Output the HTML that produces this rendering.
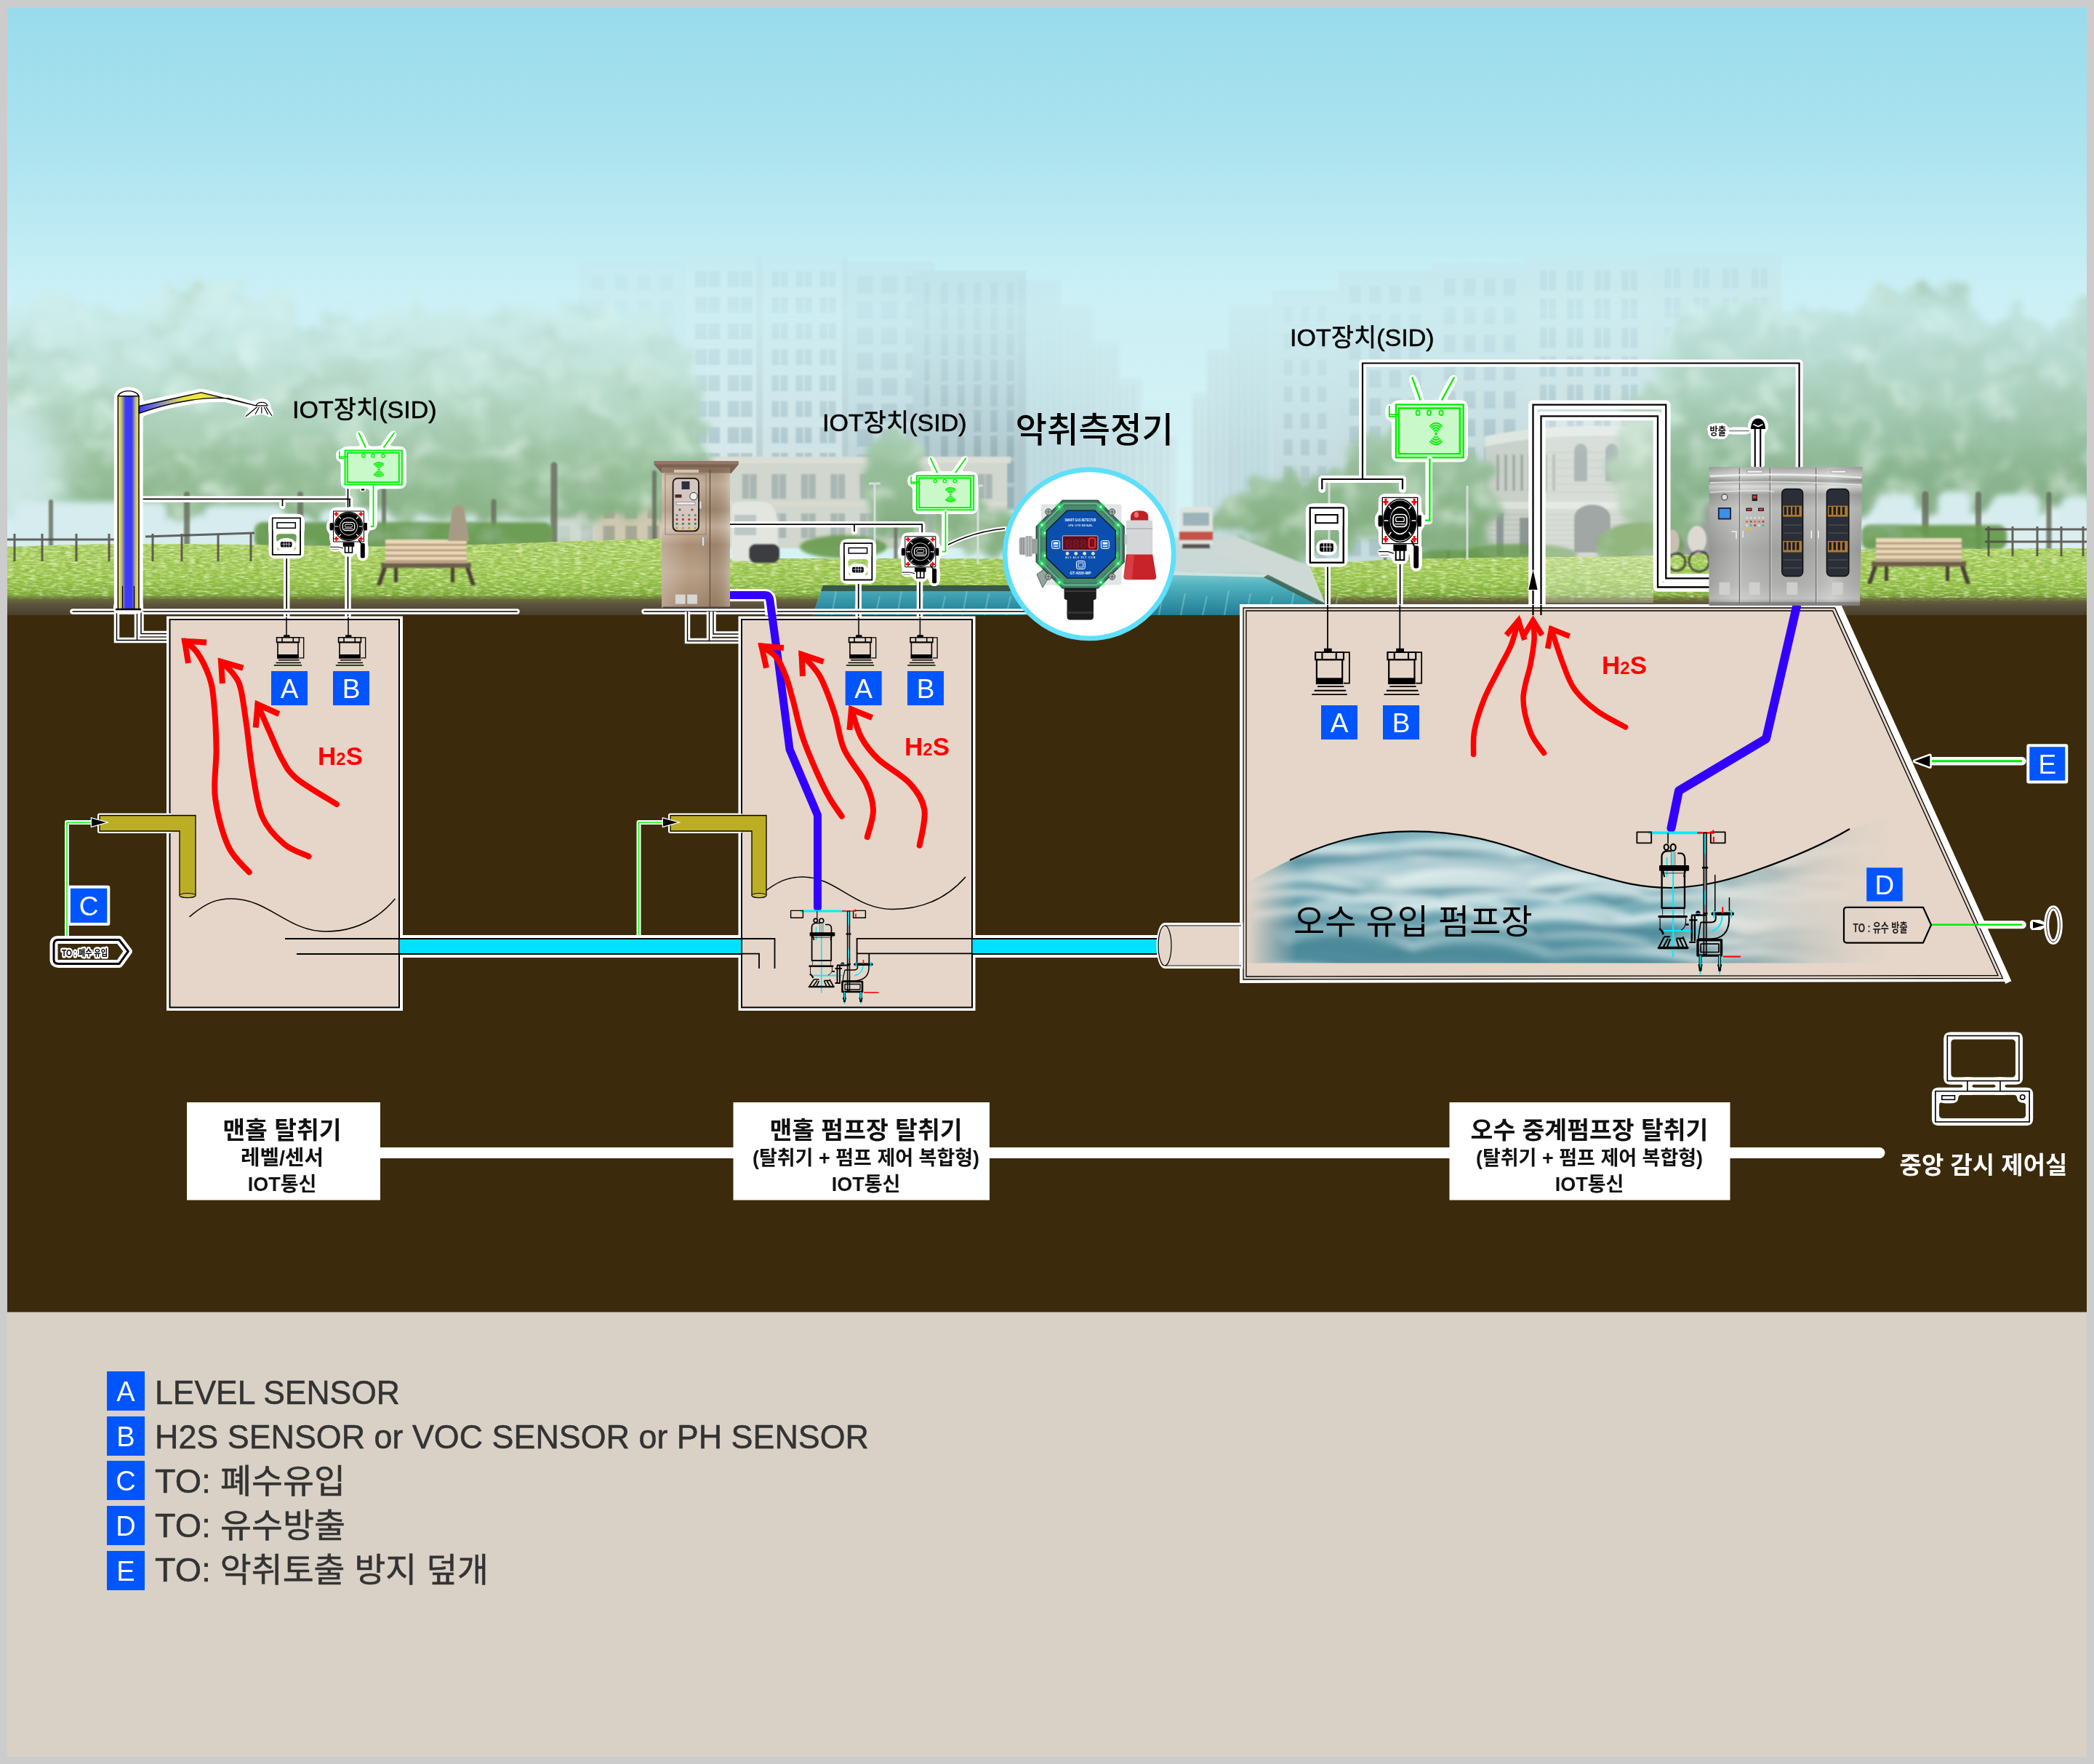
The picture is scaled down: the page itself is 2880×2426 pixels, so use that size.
<!DOCTYPE html>
<html lang="ko"><head><meta charset="utf-8"><title>IOT 탈취 시스템 구성도</title>
<style>
html,body{margin:0;padding:0;background:#cccccc;}
body{width:2880px;height:2426px;overflow:hidden;}
svg{display:block;}
text{font-family:"Liberation Sans","Noto Sans CJK KR",sans-serif;}
.k{font-family:"Liberation Sans","Noto Sans CJK KR",sans-serif;}
</style></head><body>
<svg width="2880" height="2426" viewBox="0 0 2880 2426">
<!-- defs -->
<defs>
<linearGradient id="sky" x1="0" y1="0" x2="0" y2="1">
<stop offset="0" stop-color="#99dbeb"/>
<stop offset="0.25" stop-color="#aee4f0"/>
<stop offset="0.45" stop-color="#c9eff5"/>
<stop offset="0.6" stop-color="#d3f3f7"/>
<stop offset="1" stop-color="#d6f3f6"/>
</linearGradient>
<filter id="halo" x="-20%" y="-20%" width="140%" height="140%" color-interpolation-filters="sRGB">
<feGaussianBlur in="SourceAlpha" stdDeviation="3" result="b"/>
<feComponentTransfer in="b" result="d"><feFuncA type="linear" slope="40" intercept="-2.0"/></feComponentTransfer>
<feFlood flood-color="#ffffff"/><feComposite in2="d" operator="in" result="h"/>
<feMerge><feMergeNode in="h"/><feMergeNode in="SourceGraphic"/></feMerge>
</filter>
<filter id="halo2" x="-20%" y="-20%" width="140%" height="140%">
<feMorphology in="SourceAlpha" operator="dilate" radius="2" result="d"/>
<feFlood flood-color="#ffffff"/><feComposite in2="d" operator="in" result="h"/>
<feMerge><feMergeNode in="h"/><feMergeNode in="SourceGraphic"/></feMerge>
</filter>
<filter id="b4"><feGaussianBlur stdDeviation="4"/></filter>
<filter id="b8" x="-20%" y="-30%" width="140%" height="160%"><feGaussianBlur stdDeviation="8"/></filter>
<filter id="b14" x="-40%" y="-40%" width="180%" height="180%"><feGaussianBlur stdDeviation="14"/></filter>
<filter id="b25" x="-80%" y="-80%" width="260%" height="260%"><feGaussianBlur stdDeviation="25"/></filter>
<filter id="b2"><feGaussianBlur stdDeviation="2"/></filter>
<filter id="b1"><feGaussianBlur stdDeviation="1"/></filter>
</defs>

<!-- bg -->
<rect x="0" y="0" width="2880" height="2426" fill="#cccccc"/>
<rect x="10" y="10" width="2860" height="840" fill="url(#sky)"/>

<!-- photo -->
<defs>
<clipPath id="cp"><rect x="10" y="10" width="2860" height="836"/></clipPath>
<linearGradient id="bfade" x1="0" y1="330" x2="0" y2="620" gradientUnits="userSpaceOnUse"><stop offset="0" stop-color="#fff" stop-opacity="0"/><stop offset="0.3" stop-color="#fff" stop-opacity="0.42"/><stop offset="1" stop-color="#fff" stop-opacity="0.95"/></linearGradient>
<mask id="bmask" maskUnits="userSpaceOnUse" x="0" y="300" width="2880" height="560"><rect x="0" y="300" width="2880" height="560" fill="url(#bfade)"/></mask>
<linearGradient id="treeg" x1="0" y1="400" x2="0" y2="720" gradientUnits="userSpaceOnUse"><stop offset="0" stop-color="#d0eee9"/><stop offset="0.18" stop-color="#c5e4da"/><stop offset="0.45" stop-color="#b3d6c0"/><stop offset="0.7" stop-color="#9dc4a3"/><stop offset="1" stop-color="#84af80"/></linearGradient>
<linearGradient id="grassg" x1="0" y1="740" x2="0" y2="846" gradientUnits="userSpaceOnUse"><stop offset="0" stop-color="#b4d870"/><stop offset="0.3" stop-color="#aed463"/><stop offset="0.55" stop-color="#9ccb4e"/><stop offset="0.73" stop-color="#7fae3a"/><stop offset="0.79" stop-color="#6a6b3b"/><stop offset="0.87" stop-color="#5b513c"/><stop offset="1" stop-color="#4a3f2c"/></linearGradient>
<linearGradient id="canalg" x1="0" y1="785" x2="0" y2="846" gradientUnits="userSpaceOnUse"><stop offset="0" stop-color="#86cdd2"/><stop offset="0.35" stop-color="#4fb0bd"/><stop offset="1" stop-color="#1f7d94"/></linearGradient>
<filter id="leaf" x="-3%" y="-10%" width="106%" height="120%"><feTurbulence type="fractalNoise" baseFrequency="0.035" numOctaves="4" seed="3" result="n"/><feDisplacementMap in="SourceGraphic" in2="n" scale="46" xChannelSelector="R" yChannelSelector="G" result="d"/><feGaussianBlur in="d" stdDeviation="5"/></filter>
<filter id="mottD" x="0" y="0" width="100%" height="100%"><feTurbulence type="fractalNoise" baseFrequency="0.018 0.028" numOctaves="4" seed="21" result="n"/><feColorMatrix in="n" type="matrix" values="0 0 0 0 0.30  0 0 0 0 0.47  0 0 0 0 0.30  0 2.6 0 0 -1.22"/><feComposite in2="SourceGraphic" operator="in"/><feGaussianBlur stdDeviation="2"/></filter>
<filter id="mottL" x="0" y="0" width="100%" height="100%"><feTurbulence type="fractalNoise" baseFrequency="0.022 0.03" numOctaves="4" seed="8" result="n"/><feColorMatrix in="n" type="matrix" values="0 0 0 0 0.80  0 0 0 0 0.93  0 0 0 0 0.84  2.6 0 0 0 -1.3"/><feComposite in2="SourceGraphic" operator="in"/><feGaussianBlur stdDeviation="2"/></filter>
<filter id="grassn" x="0" y="0" width="100%" height="100%"><feTurbulence type="fractalNoise" baseFrequency="0.12 0.5" numOctaves="2" seed="5" result="n"/><feColorMatrix in="n" type="matrix" values="0 0 0 0 0.22  0 0 0 0 0.38  0 0 0 0 0.06  1.6 1.2 0 0 -1.12"/><feComposite in2="SourceGraphic" operator="in"/></filter>
<filter id="grassl" x="0" y="0" width="100%" height="100%"><feTurbulence type="fractalNoise" baseFrequency="0.1 0.4" numOctaves="2" seed="15" result="n"/><feColorMatrix in="n" type="matrix" values="0 0 0 0 0.85  0 0 0 0 0.95  0 0 0 0 0.55  1.8 1.0 0 0 -1.25"/><feComposite in2="SourceGraphic" operator="in"/></filter>
</defs>
<g clip-path="url(#cp)">
<g mask="url(#bmask)" filter="url(#b2)">
<rect x="1400" y="385" width="60" height="415" fill="#bcd6dc" opacity="0.8"/>
<rect x="1403" y="393" width="3" height="375" fill="#a8c3ca" opacity="0.35"/>
<rect x="1412" y="393" width="3" height="375" fill="#a8c3ca" opacity="0.35"/>
<rect x="1421" y="393" width="3" height="375" fill="#a8c3ca" opacity="0.35"/>
<rect x="1430" y="393" width="3" height="375" fill="#a8c3ca" opacity="0.35"/>
<rect x="1439" y="393" width="3" height="375" fill="#a8c3ca" opacity="0.35"/>
<rect x="1448" y="393" width="3" height="375" fill="#a8c3ca" opacity="0.35"/>
<rect x="1455" y="420" width="50" height="380" fill="#c2dade" opacity="0.8"/>
<rect x="1458" y="428" width="3" height="340" fill="#a8c3ca" opacity="0.35"/>
<rect x="1467" y="428" width="3" height="340" fill="#a8c3ca" opacity="0.35"/>
<rect x="1476" y="428" width="3" height="340" fill="#a8c3ca" opacity="0.35"/>
<rect x="1485" y="428" width="3" height="340" fill="#a8c3ca" opacity="0.35"/>
<rect x="1494" y="428" width="3" height="340" fill="#a8c3ca" opacity="0.35"/>
<rect x="1500" y="470" width="40" height="330" fill="#c6dde1" opacity="0.8"/>
<rect x="1503" y="478" width="3" height="290" fill="#a8c3ca" opacity="0.35"/>
<rect x="1512" y="478" width="3" height="290" fill="#a8c3ca" opacity="0.35"/>
<rect x="1521" y="478" width="3" height="290" fill="#a8c3ca" opacity="0.35"/>
<rect x="1530" y="478" width="3" height="290" fill="#a8c3ca" opacity="0.35"/>
<rect x="1536" y="520" width="34" height="280" fill="#c9e0e3" opacity="0.8"/>
<rect x="1539" y="528" width="3" height="240" fill="#a8c3ca" opacity="0.35"/>
<rect x="1548" y="528" width="3" height="240" fill="#a8c3ca" opacity="0.35"/>
<rect x="1557" y="528" width="3" height="240" fill="#a8c3ca" opacity="0.35"/>
<rect x="1566" y="565" width="30" height="235" fill="#cde3e6" opacity="0.8"/>
<rect x="1569" y="573" width="3" height="195" fill="#a8c3ca" opacity="0.35"/>
<rect x="1578" y="573" width="3" height="195" fill="#a8c3ca" opacity="0.35"/>
<rect x="1587" y="573" width="3" height="195" fill="#a8c3ca" opacity="0.35"/>
<rect x="1592" y="600" width="26" height="200" fill="#d0e5e8" opacity="0.8"/>
<rect x="1595" y="608" width="3" height="160" fill="#a8c3ca" opacity="0.35"/>
<rect x="1604" y="608" width="3" height="160" fill="#a8c3ca" opacity="0.35"/>
<rect x="1690" y="420" width="60" height="380" fill="#bed7dc" opacity="0.8"/>
<rect x="1693" y="428" width="3" height="340" fill="#a8c3ca" opacity="0.35"/>
<rect x="1702" y="428" width="3" height="340" fill="#a8c3ca" opacity="0.35"/>
<rect x="1711" y="428" width="3" height="340" fill="#a8c3ca" opacity="0.35"/>
<rect x="1720" y="428" width="3" height="340" fill="#a8c3ca" opacity="0.35"/>
<rect x="1729" y="428" width="3" height="340" fill="#a8c3ca" opacity="0.35"/>
<rect x="1738" y="428" width="3" height="340" fill="#a8c3ca" opacity="0.35"/>
<rect x="1660" y="480" width="40" height="320" fill="#c4dbdf" opacity="0.8"/>
<rect x="1663" y="488" width="3" height="280" fill="#a8c3ca" opacity="0.35"/>
<rect x="1672" y="488" width="3" height="280" fill="#a8c3ca" opacity="0.35"/>
<rect x="1681" y="488" width="3" height="280" fill="#a8c3ca" opacity="0.35"/>
<rect x="1690" y="488" width="3" height="280" fill="#a8c3ca" opacity="0.35"/>
<rect x="1640" y="540" width="30" height="260" fill="#cbe1e4" opacity="0.8"/>
<rect x="1643" y="548" width="3" height="220" fill="#a8c3ca" opacity="0.35"/>
<rect x="1652" y="548" width="3" height="220" fill="#a8c3ca" opacity="0.35"/>
<rect x="1661" y="548" width="3" height="220" fill="#a8c3ca" opacity="0.35"/>
</g>
<g mask="url(#bmask)"><g filter="url(#b1)">
<g opacity="0.8">
<rect x="797" y="357" width="146" height="330" fill="#c9e0e4"/>
<path d="M813.8,378.6h18v20h-18zM845.2,378.6h18v20h-18zM876.8,378.6h18v20h-18zM908.2,378.6h18v20h-18zM813.8,413.7h18v20h-18zM845.2,413.7h18v20h-18zM876.8,413.7h18v20h-18zM908.2,413.7h18v20h-18zM813.8,448.8h18v20h-18zM845.2,448.8h18v20h-18zM876.8,448.8h18v20h-18zM908.2,448.8h18v20h-18zM813.8,483.9h18v20h-18zM845.2,483.9h18v20h-18zM876.8,483.9h18v20h-18zM908.2,483.9h18v20h-18zM813.8,519.0h18v20h-18zM845.2,519.0h18v20h-18zM876.8,519.0h18v20h-18zM908.2,519.0h18v20h-18zM813.8,554.1h18v20h-18zM845.2,554.1h18v20h-18zM876.8,554.1h18v20h-18zM908.2,554.1h18v20h-18zM813.8,589.2h18v20h-18zM845.2,589.2h18v20h-18zM876.8,589.2h18v20h-18zM908.2,589.2h18v20h-18zM813.8,624.3h18v20h-18zM845.2,624.3h18v20h-18zM876.8,624.3h18v20h-18zM908.2,624.3h18v20h-18zM813.8,659.4h18v20h-18zM845.2,659.4h18v20h-18zM876.8,659.4h18v20h-18zM908.2,659.4h18v20h-18z" fill="#b6cfd5"/>
</g>
<g opacity="1">
<rect x="943" y="352" width="105" height="300" fill="#d6e6e8"/>
<path d="M956.2,372.9h34v22h-34zM1000.8,372.9h34v22h-34zM956.2,408.6h34v22h-34zM1000.8,408.6h34v22h-34zM956.2,444.4h34v22h-34zM1000.8,444.4h34v22h-34zM956.2,480.1h34v22h-34zM1000.8,480.1h34v22h-34zM956.2,515.9h34v22h-34zM1000.8,515.9h34v22h-34zM956.2,551.6h34v22h-34zM1000.8,551.6h34v22h-34zM956.2,587.4h34v22h-34zM1000.8,587.4h34v22h-34zM956.2,623.1h34v22h-34zM1000.8,623.1h34v22h-34z" fill="#adc5cb"/>
<path d="M973.2,372.9v22M1017.8,372.9v22M973.2,408.6v22M1017.8,408.6v22M973.2,444.4v22M1017.8,444.4v22M973.2,480.1v22M1017.8,480.1v22M973.2,515.9v22M1017.8,515.9v22M973.2,551.6v22M1017.8,551.6v22M973.2,587.4v22M1017.8,587.4v22M973.2,623.1v22M1017.8,623.1v22" stroke="#d9e7e8" stroke-width="2" fill="none"/>
</g>
<g opacity="1">
<rect x="1048" y="352" width="115" height="300" fill="#d0e1e4"/>
<path d="M1061.5,372.9h22v22h-22zM1094.5,372.9h22v22h-22zM1127.5,372.9h22v22h-22zM1061.5,408.6h22v22h-22zM1094.5,408.6h22v22h-22zM1127.5,408.6h22v22h-22zM1061.5,444.4h22v22h-22zM1094.5,444.4h22v22h-22zM1127.5,444.4h22v22h-22zM1061.5,480.1h22v22h-22zM1094.5,480.1h22v22h-22zM1127.5,480.1h22v22h-22zM1061.5,515.9h22v22h-22zM1094.5,515.9h22v22h-22zM1127.5,515.9h22v22h-22zM1061.5,551.6h22v22h-22zM1094.5,551.6h22v22h-22zM1127.5,551.6h22v22h-22zM1061.5,587.4h22v22h-22zM1094.5,587.4h22v22h-22zM1127.5,587.4h22v22h-22zM1061.5,623.1h22v22h-22zM1094.5,623.1h22v22h-22zM1127.5,623.1h22v22h-22z" fill="#a9c1c8"/>
<path d="M1072.5,372.9v22M1105.5,372.9v22M1138.5,372.9v22M1072.5,408.6v22M1105.5,408.6v22M1138.5,408.6v22M1072.5,444.4v22M1105.5,444.4v22M1138.5,444.4v22M1072.5,480.1v22M1105.5,480.1v22M1138.5,480.1v22M1072.5,515.9v22M1105.5,515.9v22M1138.5,515.9v22M1072.5,551.6v22M1105.5,551.6v22M1138.5,551.6v22M1072.5,587.4v22M1105.5,587.4v22M1138.5,587.4v22M1072.5,623.1v22M1105.5,623.1v22M1138.5,623.1v22" stroke="#d3e2e4" stroke-width="2" fill="none"/>
</g>
<g opacity="0.95">
<rect x="1163" y="360" width="120" height="330" fill="#bfd3d8"/>
<path d="M1178.7,379.6h22v24h-22zM1212.0,379.6h22v24h-22zM1245.3,379.6h22v24h-22zM1178.7,414.7h22v24h-22zM1212.0,414.7h22v24h-22zM1245.3,414.7h22v24h-22zM1178.7,449.8h22v24h-22zM1212.0,449.8h22v24h-22zM1245.3,449.8h22v24h-22zM1178.7,484.9h22v24h-22zM1212.0,484.9h22v24h-22zM1245.3,484.9h22v24h-22zM1178.7,520.0h22v24h-22zM1212.0,520.0h22v24h-22zM1245.3,520.0h22v24h-22zM1178.7,555.1h22v24h-22zM1212.0,555.1h22v24h-22zM1245.3,555.1h22v24h-22zM1178.7,590.2h22v24h-22zM1212.0,590.2h22v24h-22zM1245.3,590.2h22v24h-22zM1178.7,625.3h22v24h-22zM1212.0,625.3h22v24h-22zM1245.3,625.3h22v24h-22zM1178.7,660.4h22v24h-22zM1212.0,660.4h22v24h-22zM1245.3,660.4h22v24h-22z" fill="#a4bcc3"/>
</g>
<g opacity="0.95">
<rect x="1255" y="372" width="156" height="330" fill="#adc4cb"/>
<path d="M1271.3,388.6h10v30h-10zM1294.0,388.6h10v30h-10zM1316.7,388.6h10v30h-10zM1339.3,388.6h10v30h-10zM1362.0,388.6h10v30h-10zM1384.7,388.6h10v30h-10zM1271.3,423.7h10v30h-10zM1294.0,423.7h10v30h-10zM1316.7,423.7h10v30h-10zM1339.3,423.7h10v30h-10zM1362.0,423.7h10v30h-10zM1384.7,423.7h10v30h-10zM1271.3,458.8h10v30h-10zM1294.0,458.8h10v30h-10zM1316.7,458.8h10v30h-10zM1339.3,458.8h10v30h-10zM1362.0,458.8h10v30h-10zM1384.7,458.8h10v30h-10zM1271.3,493.9h10v30h-10zM1294.0,493.9h10v30h-10zM1316.7,493.9h10v30h-10zM1339.3,493.9h10v30h-10zM1362.0,493.9h10v30h-10zM1384.7,493.9h10v30h-10zM1271.3,529.0h10v30h-10zM1294.0,529.0h10v30h-10zM1316.7,529.0h10v30h-10zM1339.3,529.0h10v30h-10zM1362.0,529.0h10v30h-10zM1384.7,529.0h10v30h-10zM1271.3,564.1h10v30h-10zM1294.0,564.1h10v30h-10zM1316.7,564.1h10v30h-10zM1339.3,564.1h10v30h-10zM1362.0,564.1h10v30h-10zM1384.7,564.1h10v30h-10zM1271.3,599.2h10v30h-10zM1294.0,599.2h10v30h-10zM1316.7,599.2h10v30h-10zM1339.3,599.2h10v30h-10zM1362.0,599.2h10v30h-10zM1384.7,599.2h10v30h-10zM1271.3,634.3h10v30h-10zM1294.0,634.3h10v30h-10zM1316.7,634.3h10v30h-10zM1339.3,634.3h10v30h-10zM1362.0,634.3h10v30h-10zM1384.7,634.3h10v30h-10zM1271.3,669.4h10v30h-10zM1294.0,669.4h10v30h-10zM1316.7,669.4h10v30h-10zM1339.3,669.4h10v30h-10zM1362.0,669.4h10v30h-10zM1384.7,669.4h10v30h-10z" fill="#93abb4"/>
</g>
<rect x="1040" y="352" width="9" height="290" fill="#b3c8cc" opacity="0.8"/>
<rect x="1158" y="352" width="8" height="340" fill="#afc4c8" opacity="0.8"/>
<rect x="1278" y="362" width="7" height="340" fill="#b4c8cc" opacity="0.8"/>
<g opacity="0.8">
<rect x="1750" y="400" width="90" height="380" fill="#c2d6da"/>
<path d="M1765.7,421.3h12v22h-12zM1789.0,421.3h12v22h-12zM1812.3,421.3h12v22h-12zM1765.7,457.9h12v22h-12zM1789.0,457.9h12v22h-12zM1812.3,457.9h12v22h-12zM1765.7,494.5h12v22h-12zM1789.0,494.5h12v22h-12zM1812.3,494.5h12v22h-12zM1765.7,531.1h12v22h-12zM1789.0,531.1h12v22h-12zM1812.3,531.1h12v22h-12zM1765.7,567.7h12v22h-12zM1789.0,567.7h12v22h-12zM1812.3,567.7h12v22h-12zM1765.7,604.3h12v22h-12zM1789.0,604.3h12v22h-12zM1812.3,604.3h12v22h-12zM1765.7,640.9h12v22h-12zM1789.0,640.9h12v22h-12zM1812.3,640.9h12v22h-12zM1765.7,677.5h12v22h-12zM1789.0,677.5h12v22h-12zM1812.3,677.5h12v22h-12zM1765.7,714.1h12v22h-12zM1789.0,714.1h12v22h-12zM1812.3,714.1h12v22h-12zM1765.7,750.7h12v22h-12zM1789.0,750.7h12v22h-12zM1812.3,750.7h12v22h-12z" fill="#a9c0c6"/>
</g>
<g opacity="0.9">
<rect x="1840" y="372" width="130" height="400" fill="#c4d7da"/>
<path d="M1855.8,393.3h16v24h-16zM1883.2,393.3h16v24h-16zM1910.8,393.3h16v24h-16zM1938.2,393.3h16v24h-16zM1855.8,431.9h16v24h-16zM1883.2,431.9h16v24h-16zM1910.8,431.9h16v24h-16zM1938.2,431.9h16v24h-16zM1855.8,470.5h16v24h-16zM1883.2,470.5h16v24h-16zM1910.8,470.5h16v24h-16zM1938.2,470.5h16v24h-16zM1855.8,509.1h16v24h-16zM1883.2,509.1h16v24h-16zM1910.8,509.1h16v24h-16zM1938.2,509.1h16v24h-16zM1855.8,547.7h16v24h-16zM1883.2,547.7h16v24h-16zM1910.8,547.7h16v24h-16zM1938.2,547.7h16v24h-16zM1855.8,586.3h16v24h-16zM1883.2,586.3h16v24h-16zM1910.8,586.3h16v24h-16zM1938.2,586.3h16v24h-16zM1855.8,624.9h16v24h-16zM1883.2,624.9h16v24h-16zM1910.8,624.9h16v24h-16zM1938.2,624.9h16v24h-16zM1855.8,663.5h16v24h-16zM1883.2,663.5h16v24h-16zM1910.8,663.5h16v24h-16zM1938.2,663.5h16v24h-16zM1855.8,702.1h16v24h-16zM1883.2,702.1h16v24h-16zM1910.8,702.1h16v24h-16zM1938.2,702.1h16v24h-16zM1855.8,740.7h16v24h-16zM1883.2,740.7h16v24h-16zM1910.8,740.7h16v24h-16zM1938.2,740.7h16v24h-16z" fill="#a7bec4"/>
</g>
<g opacity="0.95">
<rect x="1970" y="362" width="130" height="400" fill="#c8d9da"/>
<path d="M1985.8,383.3h16v24h-16zM2013.2,383.3h16v24h-16zM2040.8,383.3h16v24h-16zM2068.2,383.3h16v24h-16zM1985.8,421.9h16v24h-16zM2013.2,421.9h16v24h-16zM2040.8,421.9h16v24h-16zM2068.2,421.9h16v24h-16zM1985.8,460.5h16v24h-16zM2013.2,460.5h16v24h-16zM2040.8,460.5h16v24h-16zM2068.2,460.5h16v24h-16zM1985.8,499.1h16v24h-16zM2013.2,499.1h16v24h-16zM2040.8,499.1h16v24h-16zM2068.2,499.1h16v24h-16zM1985.8,537.7h16v24h-16zM2013.2,537.7h16v24h-16zM2040.8,537.7h16v24h-16zM2068.2,537.7h16v24h-16zM1985.8,576.3h16v24h-16zM2013.2,576.3h16v24h-16zM2040.8,576.3h16v24h-16zM2068.2,576.3h16v24h-16zM1985.8,614.9h16v24h-16zM2013.2,614.9h16v24h-16zM2040.8,614.9h16v24h-16zM2068.2,614.9h16v24h-16zM1985.8,653.5h16v24h-16zM2013.2,653.5h16v24h-16zM2040.8,653.5h16v24h-16zM2068.2,653.5h16v24h-16zM1985.8,692.1h16v24h-16zM2013.2,692.1h16v24h-16zM2040.8,692.1h16v24h-16zM2068.2,692.1h16v24h-16zM1985.8,730.7h16v24h-16zM2013.2,730.7h16v24h-16zM2040.8,730.7h16v24h-16zM2068.2,730.7h16v24h-16z" fill="#a5bcc2"/>
</g>
<g opacity="1">
<rect x="2100" y="352" width="170" height="250" fill="#cddbda"/>
<path d="M2117.8,371.7h22v28h-22zM2155.2,371.7h22v28h-22zM2192.8,371.7h22v28h-22zM2230.2,371.7h22v28h-22zM2117.8,411.0h22v28h-22zM2155.2,411.0h22v28h-22zM2192.8,411.0h22v28h-22zM2230.2,411.0h22v28h-22zM2117.8,450.3h22v28h-22zM2155.2,450.3h22v28h-22zM2192.8,450.3h22v28h-22zM2230.2,450.3h22v28h-22zM2117.8,489.7h22v28h-22zM2155.2,489.7h22v28h-22zM2192.8,489.7h22v28h-22zM2230.2,489.7h22v28h-22zM2117.8,529.0h22v28h-22zM2155.2,529.0h22v28h-22zM2192.8,529.0h22v28h-22zM2230.2,529.0h22v28h-22zM2117.8,568.3h22v28h-22zM2155.2,568.3h22v28h-22zM2192.8,568.3h22v28h-22zM2230.2,568.3h22v28h-22z" fill="#a3bac0"/>
<path d="M2128.8,371.7v28M2166.2,371.7v28M2203.8,371.7v28M2241.2,371.7v28M2128.8,411.0v28M2166.2,411.0v28M2203.8,411.0v28M2241.2,411.0v28M2128.8,450.3v28M2166.2,450.3v28M2203.8,450.3v28M2241.2,450.3v28M2128.8,489.7v28M2166.2,489.7v28M2203.8,489.7v28M2241.2,489.7v28M2128.8,529.0v28M2166.2,529.0v28M2203.8,529.0v28M2241.2,529.0v28M2128.8,568.3v28M2166.2,568.3v28M2203.8,568.3v28M2241.2,568.3v28" stroke="#d6e3e2" stroke-width="2" fill="none"/>
</g>
<g opacity="1">
<rect x="2270" y="348" width="180" height="300" fill="#c9d8d8"/>
<path d="M2289.0,368.4h22v28h-22zM2329.0,368.4h22v28h-22zM2369.0,368.4h22v28h-22zM2409.0,368.4h22v28h-22zM2289.0,409.3h22v28h-22zM2329.0,409.3h22v28h-22zM2369.0,409.3h22v28h-22zM2409.0,409.3h22v28h-22zM2289.0,450.1h22v28h-22zM2329.0,450.1h22v28h-22zM2369.0,450.1h22v28h-22zM2409.0,450.1h22v28h-22zM2289.0,491.0h22v28h-22zM2329.0,491.0h22v28h-22zM2369.0,491.0h22v28h-22zM2409.0,491.0h22v28h-22zM2289.0,531.9h22v28h-22zM2329.0,531.9h22v28h-22zM2369.0,531.9h22v28h-22zM2409.0,531.9h22v28h-22zM2289.0,572.7h22v28h-22zM2329.0,572.7h22v28h-22zM2369.0,572.7h22v28h-22zM2409.0,572.7h22v28h-22zM2289.0,613.6h22v28h-22zM2329.0,613.6h22v28h-22zM2369.0,613.6h22v28h-22zM2409.0,613.6h22v28h-22z" fill="#a6bcc2"/>
<path d="M2300.0,368.4v28M2340.0,368.4v28M2380.0,368.4v28M2420.0,368.4v28M2300.0,409.3v28M2340.0,409.3v28M2380.0,409.3v28M2420.0,409.3v28M2300.0,450.1v28M2340.0,450.1v28M2380.0,450.1v28M2420.0,450.1v28M2300.0,491.0v28M2340.0,491.0v28M2380.0,491.0v28M2420.0,491.0v28M2300.0,531.9v28M2340.0,531.9v28M2380.0,531.9v28M2420.0,531.9v28M2300.0,572.7v28M2340.0,572.7v28M2380.0,572.7v28M2420.0,572.7v28M2300.0,613.6v28M2340.0,613.6v28M2380.0,613.6v28M2420.0,613.6v28" stroke="#d3e0e0" stroke-width="2" fill="none"/>
</g>
</g></g>
<g filter="url(#b1)">
<rect x="960" y="634" width="425" height="120" fill="#d1d7ce"/>
<rect x="955" y="628" width="435" height="9" fill="#dcdfd4"/>
<g opacity="1.0">
<rect x="960" y="638" width="425" height="112" fill="#d1d7ce"/>
<path d="M980.2,652.0h20v34h-20zM1020.8,652.0h20v34h-20zM1061.2,652.0h20v34h-20zM1101.8,652.0h20v34h-20zM1142.2,652.0h20v34h-20zM1182.8,652.0h20v34h-20zM1223.2,652.0h20v34h-20zM1263.8,652.0h20v34h-20zM1304.2,652.0h20v34h-20zM1344.8,652.0h20v34h-20zM980.2,706.0h20v34h-20zM1020.8,706.0h20v34h-20zM1061.2,706.0h20v34h-20zM1101.8,706.0h20v34h-20zM1142.2,706.0h20v34h-20zM1182.8,706.0h20v34h-20zM1223.2,706.0h20v34h-20zM1263.8,706.0h20v34h-20zM1304.2,706.0h20v34h-20zM1344.8,706.0h20v34h-20z" fill="#a9b7b4"/>
<path d="M990.2,652.0v34M1030.8,652.0v34M1071.2,652.0v34M1111.8,652.0v34M1152.2,652.0v34M1192.8,652.0v34M1233.2,652.0v34M1273.8,652.0v34M1314.2,652.0v34M1354.8,652.0v34M990.2,706.0v34M1030.8,706.0v34M1071.2,706.0v34M1111.8,706.0v34M1152.2,706.0v34M1192.8,706.0v34M1233.2,706.0v34M1273.8,706.0v34M1314.2,706.0v34M1354.8,706.0v34" stroke="#c3c8c0" stroke-width="2" fill="none"/>
</g>
<rect x="960" y="690" width="425" height="6" fill="#d9dbcf"/>
<rect x="755" y="674" width="165" height="80" fill="#cfc9b3"/><rect x="755" y="670" width="170" height="8" fill="#dcd8c6"/>
<g opacity="1.0">
<rect x="755" y="678" width="165" height="74" fill="#cfc9b3"/>
<path d="M768.3,689.0h16v24h-16zM798.9,689.0h16v24h-16zM829.5,689.0h16v24h-16zM860.1,689.0h16v24h-16zM890.7,689.0h16v24h-16zM768.3,723.0h16v24h-16zM798.9,723.0h16v24h-16zM829.5,723.0h16v24h-16zM860.1,723.0h16v24h-16zM890.7,723.0h16v24h-16z" fill="#a6a896"/>
</g>
<path d="M2043,600 Q2150,578 2290,590 L2350,596 V770 H2043Z" fill="#c9d0c8"/>
<path d="M2043,600 Q2150,578 2290,590 L2350,596 V608 L2290,603 Q2150,591 2043,614Z" fill="#e0e6df"/>
<path d="M2043,690 H2350 V700 H2043Z" fill="#dce2da"/>
<path d="M2048,708H2350" stroke="#b7bfb7" stroke-width="1.5"/>
<path d="M2048,715H2350" stroke="#b7bfb7" stroke-width="1.5"/>
<path d="M2048,722H2350" stroke="#b7bfb7" stroke-width="1.5"/>
<path d="M2048,729H2350" stroke="#b7bfb7" stroke-width="1.5"/>
<path d="M2048,736H2350" stroke="#b7bfb7" stroke-width="1.5"/>
<path d="M2048,743H2350" stroke="#b7bfb7" stroke-width="1.5"/>
<path d="M2048,750H2350" stroke="#b7bfb7" stroke-width="1.5"/>
<path d="M2048,757H2350" stroke="#b7bfb7" stroke-width="1.5"/>
<path d="M2048,764H2350" stroke="#b7bfb7" stroke-width="1.5"/>
<path d="M2120,622H2290" stroke="#b9c1b9" stroke-width="1.5"/>
<path d="M2120,633H2290" stroke="#b9c1b9" stroke-width="1.5"/>
<path d="M2120,644H2290" stroke="#b9c1b9" stroke-width="1.5"/>
<path d="M2120,655H2290" stroke="#b9c1b9" stroke-width="1.5"/>
<path d="M2120,666H2290" stroke="#b9c1b9" stroke-width="1.5"/>
<path d="M2120,677H2290" stroke="#b9c1b9" stroke-width="1.5"/>
<path d="M2165,662 v-42 a9,10 0 0 1 18,0 v42z" fill="#8c9b9a"/>
<path d="M2208,662 v-42 a9,10 0 0 1 18,0 v42z" fill="#8c9b9a"/>
<path d="M2165,760 v-48 a25,18 0 0 1 50,0 v48z" fill="#7b8583"/>
<path d="M2255,760 v-48 a25,18 0 0 1 50,0 v48z" fill="#7b8583"/>
<rect x="2058" y="625" width="4" height="50" fill="#a0aaa7"/>
<rect x="2069" y="625" width="4" height="50" fill="#a0aaa7"/>
<rect x="2080" y="625" width="4" height="50" fill="#a0aaa7"/>
<rect x="2091" y="625" width="4" height="50" fill="#a0aaa7"/>
<rect x="2102" y="625" width="4" height="50" fill="#a0aaa7"/>
<rect x="2113" y="625" width="4" height="50" fill="#a0aaa7"/>
<rect x="2124" y="625" width="4" height="50" fill="#a0aaa7"/>
<rect x="2135" y="625" width="4" height="50" fill="#a0aaa7"/>
<rect x="2058" y="705" width="10" height="60" fill="#8c9795"/><rect x="2090" y="712" width="14" height="50" fill="#8c9795"/>
<rect x="2300" y="690" width="60" height="75" fill="#99a29b"/>
</g>
<rect x="-10" y="655" width="600" height="115" fill="#d8edf0" filter="url(#b8)"/>
<rect x="2540" y="640" width="350" height="120" fill="#dbeef0" filter="url(#b8)"/>
<rect x="560" y="690" width="260" height="60" fill="#cfe3e0" opacity="0.7" filter="url(#b8)"/>
<g filter="url(#leaf)"><g fill="url(#treeg)"><path d="M-30,712L-30,418L10,418Q54,392 97,425Q142,406 188,439Q219,365 250,407Q302,376 353,419Q388,382 424,458Q466,408 508,449Q549,402 591,439Q625,396 659,439Q710,405 762,433Q811,394 860,441Q891,411 922,445Q900,485 880,712Z"/><path d="M2300,700L2300,431L2340,431Q2389,413 2437,440Q2491,414 2545,437Q2598,375 2651,401Q2693,358 2735,448Q2781,407 2827,446Q2860,401 2893,423Q2929,384 2965,427Q2950,467 2930,700Z"/><ellipse cx="70" cy="640" rx="85" ry="70"/><ellipse cx="255" cy="650" rx="110" ry="60"/><ellipse cx="413" cy="655" rx="100" ry="55"/><ellipse cx="528" cy="640" rx="90" ry="70"/><ellipse cx="679" cy="650" rx="110" ry="60"/><ellipse cx="840" cy="640" rx="110" ry="70"/><ellipse cx="900" cy="560" rx="60" ry="110"/><ellipse cx="930" cy="640" rx="45" ry="90"/><ellipse cx="2330" cy="560" rx="60" ry="140"/><ellipse cx="2400" cy="500" rx="80" ry="90"/><ellipse cx="2420" cy="650" rx="60" ry="90"/><ellipse cx="2520" cy="640" rx="100" ry="60"/><ellipse cx="2648" cy="650" rx="100" ry="50"/><ellipse cx="2721" cy="640" rx="80" ry="60"/><ellipse cx="2818" cy="650" rx="90" ry="50"/><ellipse cx="1668" cy="722" rx="14" ry="16"/><ellipse cx="1684" cy="716" rx="16" ry="20"/><ellipse cx="1704" cy="708" rx="20" ry="26"/><ellipse cx="1730" cy="698" rx="26" ry="34"/><ellipse cx="1765" cy="690" rx="32" ry="42"/><ellipse cx="1232" cy="668" rx="46" ry="72"/><ellipse cx="1320" cy="712" rx="40" ry="45"/><ellipse cx="1378" cy="735" rx="28" ry="30"/><ellipse cx="1836" cy="705" rx="48" ry="58"/><ellipse cx="1905" cy="668" rx="62" ry="78"/><ellipse cx="1992" cy="695" rx="66" ry="85"/><ellipse cx="1762" cy="748" rx="46" ry="36"/><ellipse cx="1706" cy="768" rx="36" ry="24"/><ellipse cx="2290" cy="640" rx="70" ry="110"/></g></g>
<g filter="url(#leaf)" opacity="0.28"><path d="M2300,700L2300,431L2340,431Q2389,413 2437,440Q2491,414 2545,437Q2598,375 2651,401Q2693,358 2735,448Q2781,407 2827,446Q2860,401 2893,423Q2929,384 2965,427Q2950,467 2930,700Z" fill="#6c9c78"/></g>
<g filter="url(#leaf)" opacity="0.62"><g filter="url(#mottD)" fill="#000"><path d="M-30,712L-30,418L10,418Q54,392 97,425Q142,406 188,439Q219,365 250,407Q302,376 353,419Q388,382 424,458Q466,408 508,449Q549,402 591,439Q625,396 659,439Q710,405 762,433Q811,394 860,441Q891,411 922,445Q900,485 880,712Z"/><path d="M2300,700L2300,431L2340,431Q2389,413 2437,440Q2491,414 2545,437Q2598,375 2651,401Q2693,358 2735,448Q2781,407 2827,446Q2860,401 2893,423Q2929,384 2965,427Q2950,467 2930,700Z"/><ellipse cx="70" cy="640" rx="85" ry="70"/><ellipse cx="255" cy="650" rx="110" ry="60"/><ellipse cx="413" cy="655" rx="100" ry="55"/><ellipse cx="528" cy="640" rx="90" ry="70"/><ellipse cx="679" cy="650" rx="110" ry="60"/><ellipse cx="840" cy="640" rx="110" ry="70"/><ellipse cx="900" cy="560" rx="60" ry="110"/><ellipse cx="930" cy="640" rx="45" ry="90"/><ellipse cx="2330" cy="560" rx="60" ry="140"/><ellipse cx="2400" cy="500" rx="80" ry="90"/><ellipse cx="2420" cy="650" rx="60" ry="90"/><ellipse cx="2520" cy="640" rx="100" ry="60"/><ellipse cx="2648" cy="650" rx="100" ry="50"/><ellipse cx="2721" cy="640" rx="80" ry="60"/><ellipse cx="2818" cy="650" rx="90" ry="50"/><ellipse cx="1668" cy="722" rx="14" ry="16"/><ellipse cx="1684" cy="716" rx="16" ry="20"/><ellipse cx="1704" cy="708" rx="20" ry="26"/><ellipse cx="1730" cy="698" rx="26" ry="34"/><ellipse cx="1765" cy="690" rx="32" ry="42"/><ellipse cx="1232" cy="668" rx="46" ry="72"/><ellipse cx="1320" cy="712" rx="40" ry="45"/><ellipse cx="1378" cy="735" rx="28" ry="30"/><ellipse cx="1836" cy="705" rx="48" ry="58"/><ellipse cx="1905" cy="668" rx="62" ry="78"/><ellipse cx="1992" cy="695" rx="66" ry="85"/><ellipse cx="1762" cy="748" rx="46" ry="36"/><ellipse cx="1706" cy="768" rx="36" ry="24"/><ellipse cx="2290" cy="640" rx="70" ry="110"/></g></g>
<g filter="url(#leaf)" opacity="0.8"><g filter="url(#mottL)" fill="#000"><path d="M-30,712L-30,418L10,418Q54,392 97,425Q142,406 188,439Q219,365 250,407Q302,376 353,419Q388,382 424,458Q466,408 508,449Q549,402 591,439Q625,396 659,439Q710,405 762,433Q811,394 860,441Q891,411 922,445Q900,485 880,712Z"/><path d="M2300,700L2300,431L2340,431Q2389,413 2437,440Q2491,414 2545,437Q2598,375 2651,401Q2693,358 2735,448Q2781,407 2827,446Q2860,401 2893,423Q2929,384 2965,427Q2950,467 2930,700Z"/><ellipse cx="70" cy="640" rx="85" ry="70"/><ellipse cx="255" cy="650" rx="110" ry="60"/><ellipse cx="413" cy="655" rx="100" ry="55"/><ellipse cx="528" cy="640" rx="90" ry="70"/><ellipse cx="679" cy="650" rx="110" ry="60"/><ellipse cx="840" cy="640" rx="110" ry="70"/><ellipse cx="900" cy="560" rx="60" ry="110"/><ellipse cx="930" cy="640" rx="45" ry="90"/><ellipse cx="2330" cy="560" rx="60" ry="140"/><ellipse cx="2400" cy="500" rx="80" ry="90"/><ellipse cx="2420" cy="650" rx="60" ry="90"/><ellipse cx="2520" cy="640" rx="100" ry="60"/><ellipse cx="2648" cy="650" rx="100" ry="50"/><ellipse cx="2721" cy="640" rx="80" ry="60"/><ellipse cx="2818" cy="650" rx="90" ry="50"/><ellipse cx="1668" cy="722" rx="14" ry="16"/><ellipse cx="1684" cy="716" rx="16" ry="20"/><ellipse cx="1704" cy="708" rx="20" ry="26"/><ellipse cx="1730" cy="698" rx="26" ry="34"/><ellipse cx="1765" cy="690" rx="32" ry="42"/><ellipse cx="1232" cy="668" rx="46" ry="72"/><ellipse cx="1320" cy="712" rx="40" ry="45"/><ellipse cx="1378" cy="735" rx="28" ry="30"/><ellipse cx="1836" cy="705" rx="48" ry="58"/><ellipse cx="1905" cy="668" rx="62" ry="78"/><ellipse cx="1992" cy="695" rx="66" ry="85"/><ellipse cx="1762" cy="748" rx="46" ry="36"/><ellipse cx="1706" cy="768" rx="36" ry="24"/><ellipse cx="2290" cy="640" rx="70" ry="110"/></g></g>
<linearGradient id="hz" x1="0" y1="380" x2="0" y2="640" gradientUnits="userSpaceOnUse"><stop offset="0" stop-color="#cdf0f5" stop-opacity="0"/><stop offset="0.18" stop-color="#cdf0f5" stop-opacity="0.55"/><stop offset="0.5" stop-color="#cdeef2" stop-opacity="0.35"/><stop offset="1" stop-color="#cdeef2" stop-opacity="0"/></linearGradient>
<rect x="10" y="380" width="2860" height="260" fill="url(#hz)"/>
<linearGradient id="lfade" x1="10" x2="150" y1="0" y2="0" gradientUnits="userSpaceOnUse"><stop offset="0" stop-color="#d6eff2" stop-opacity="0.95"/><stop offset="0.35" stop-color="#d6eff2" stop-opacity="0.6"/><stop offset="1" stop-color="#d6eff2" stop-opacity="0"/></linearGradient>
<ellipse cx="5" cy="665" rx="85" ry="100" fill="#d6eff2" opacity="0.85" filter="url(#b25)"/>
<g fill="#d6ecef" filter="url(#b4)">
<rect x="20" y="690" width="210" height="55" rx="12"/>
<rect x="280" y="695" width="110" height="50" rx="12"/>
<rect x="440" y="700" width="70" height="40" rx="12"/>
<rect x="2580" y="680" width="55" height="50" rx="12"/>
<rect x="2665" y="676" width="45" height="54" rx="12"/>
<rect x="2740" y="680" width="65" height="50" rx="12"/>
<rect x="2835" y="682" width="40" height="48" rx="12"/>
</g>
<g stroke="#68705f" stroke-linecap="round" opacity="0.85" filter="url(#b1)">
<line x1="257" y1="680" x2="257" y2="760" stroke-width="8"/>
<line x1="413" y1="680" x2="413" y2="760" stroke-width="8"/>
<line x1="528" y1="650" x2="528" y2="745" stroke-width="6"/>
<line x1="679" y1="690" x2="679" y2="770" stroke-width="7"/>
<line x1="762" y1="640" x2="762" y2="770" stroke-width="9"/>
<line x1="900" y1="650" x2="900" y2="745" stroke-width="6"/>
<line x1="70" y1="690" x2="70" y2="750" stroke-width="6"/>
<line x1="2648" y1="680" x2="2648" y2="790" stroke-width="9"/>
<line x1="2721" y1="680" x2="2721" y2="780" stroke-width="8"/>
<line x1="2818" y1="680" x2="2818" y2="770" stroke-width="7"/>
<line x1="1232" y1="720" x2="1232" y2="780" stroke-width="5"/>
<line x1="1992" y1="760" x2="1992" y2="800" stroke-width="5"/>
<line x1="1905" y1="730" x2="1905" y2="790" stroke-width="4"/>
<line x1="2290" y1="720" x2="2290" y2="770" stroke-width="6"/>
</g>
<path d="M1590,745 L1650,735 L1700,738 L1760,790 L1400,792 L1400,760Z" fill="#cad8d6" filter="url(#b2)"/>
<g fill="#679a4d" filter="url(#b2)">
<rect x="350" y="718" width="410" height="36" rx="12" opacity="0.95"/>
<rect x="2560" y="722" width="200" height="34" rx="12" opacity="0.95"/>
<ellipse cx="1160" cy="752" rx="60" ry="16" opacity="0.9"/>
<ellipse cx="2255" cy="752" rx="60" ry="34"/>
<ellipse cx="2090" cy="762" rx="80" ry="14" opacity="0.8"/>
<ellipse cx="1990" cy="770" rx="60" ry="14" opacity="0.8"/>
</g>
<g filter="url(#mottD)" fill="#000" opacity="0.7"><rect x="350" y="718" width="410" height="36" rx="12"/><rect x="2560" y="722" width="200" height="34" rx="12"/><ellipse cx="2255" cy="752" rx="60" ry="34"/></g>
<path d="M10,752 C200,744 330,750 560,752 L930,740 L960,768 L1385,768 L1400,790 L1400,805 L1132,805 L1118,846 L10,846Z" fill="url(#grassg)"/><path d="M1800,778 C1850,770 2000,766 2200,766 L2560,756 L2870,754 L2870,846 L1852,846 L1822,829Z" fill="url(#grassg)"/>
<clipPath id="gclip"><path d="M10,752 C200,744 330,750 560,752 L930,740 L960,768 L1385,768 L1400,790 L1400,805 L1132,805 L1118,846 L10,846Z"/><path d="M1800,778 C1850,770 2000,766 2200,766 L2560,756 L2870,754 L2870,846 L1852,846 L1822,829Z"/></clipPath>
<g clip-path="url(#gclip)"><g filter="url(#grassn)" fill="#000" opacity="0.8"><path d="M10,740H1420V824H10Z"/><path d="M1790,750H2870V826H1790Z"/></g>
<g filter="url(#grassl)" fill="#000" opacity="0.8"><path d="M10,740H1420V820H10Z"/><path d="M1790,750H2870V822H1790Z"/></g></g>
<path d="M1132,805 L1400,805 L1400,790 L1617,786 L1744,790 L1822,829 L1860,846 L1118,846Z" fill="url(#canalg)"/>
<g stroke="#9adbe0" stroke-width="2.2" opacity="0.4">
<line x1="1150" y1="812" x2="1144" y2="846"/>
<line x1="1180" y1="816" x2="1174" y2="846"/>
<line x1="1210" y1="820" x2="1204" y2="846"/>
<line x1="1240" y1="812" x2="1234" y2="846"/>
<line x1="1270" y1="816" x2="1264" y2="846"/>
<line x1="1300" y1="820" x2="1294" y2="846"/>
<line x1="1330" y1="812" x2="1324" y2="846"/>
<line x1="1360" y1="816" x2="1354" y2="846"/>
<line x1="1390" y1="820" x2="1384" y2="846"/>
<line x1="1420" y1="812" x2="1414" y2="846"/>
<line x1="1450" y1="816" x2="1444" y2="846"/>
<line x1="1480" y1="820" x2="1474" y2="846"/>
<line x1="1510" y1="812" x2="1504" y2="846"/>
<line x1="1540" y1="816" x2="1534" y2="846"/>
<line x1="1570" y1="820" x2="1564" y2="846"/>
<line x1="1600" y1="812" x2="1594" y2="846"/>
<line x1="1630" y1="816" x2="1624" y2="846"/>
<line x1="1660" y1="820" x2="1654" y2="846"/>
<line x1="1690" y1="812" x2="1684" y2="846"/>
<line x1="1720" y1="816" x2="1714" y2="846"/>
<line x1="1750" y1="820" x2="1744" y2="846"/>
<line x1="1780" y1="812" x2="1774" y2="846"/>
<line x1="1810" y1="816" x2="1804" y2="846"/>
<line x1="1840" y1="820" x2="1834" y2="846"/>
</g>
<path d="M1132,805 H1400 V813 H1129Z" fill="#34503c" opacity="0.9"/>
<path d="M1400,790 L1617,786 L1744,790 L1748,794 L1617,791 L1400,796Z" fill="#d9e4e0" opacity="0.9"/>
<path d="M1744,790 L1822,829 L1852,846 L1836,846 L1812,832 L1738,794Z" fill="#3c5a45" opacity="0.8"/>
<path d="M1668,746 L1700,738 L1800,778 L1822,829 L1744,790 L1668,760Z" fill="#ced9d5" filter="url(#b1)"/>
<g filter="url(#b1)"><rect x="1622" y="697" width="46" height="54" rx="6" fill="#dfe3df"/><rect x="1627" y="705" width="36" height="18" fill="#9cb3ba"/><rect x="1622" y="731" width="46" height="12" fill="#c4524a"/><rect x="1626" y="748" width="38" height="6" fill="#555"/></g>
<g stroke="#d9e2e0" stroke-width="3" opacity="0.9"><path d="M1203,665V790M1195,665h16M1345,668V775M1338,668h14M1828,660V760M1821,660h14M2018,668V770"/></g>
<g stroke="#4e4a44" stroke-width="3" fill="none" opacity="0.85">
<path d="M10,742 H160 M200,738 L350,733"/>
<line x1="20" y1="734" x2="20" y2="772"/>
<line x1="58" y1="734" x2="58" y2="772"/>
<line x1="105" y1="734" x2="105" y2="772"/>
<line x1="150" y1="734" x2="150" y2="772"/>
<line x1="210" y1="734" x2="210" y2="772"/>
<line x1="250" y1="734" x2="250" y2="772"/>
<line x1="300" y1="734" x2="300" y2="772"/>
<line x1="345" y1="734" x2="345" y2="772"/>
<path d="M2730,728 H2870 M2730,745 H2870"/>
<line x1="2735" y1="724" x2="2735" y2="765"/>
<line x1="2768" y1="724" x2="2768" y2="765"/>
<line x1="2802" y1="724" x2="2802" y2="765"/>
<line x1="2835" y1="724" x2="2835" y2="765"/>
<line x1="2865" y1="724" x2="2865" y2="765"/>
</g>
<g filter="url(#b1)"><rect x="530" y="742" width="112" height="32" fill="#ead8ba"/>
<rect x="530" y="748.0" width="112" height="2.5" fill="#a98c66"/>
<rect x="530" y="755.5" width="112" height="2.5" fill="#a98c66"/>
<rect x="530" y="763.0" width="112" height="2.5" fill="#a98c66"/>
<rect x="530" y="770.5" width="112" height="2.5" fill="#a98c66"/>
<rect x="524" y="774" width="124" height="7" fill="#6d5d48"/>
<path d="M526,781 l-8,24 h6 l8,-24z M640,781 l8,24 h6 l-8,-24z M542,781 v20 h5 v-20z M620,781 v20 h5 v-20z" fill="#4a4036"/></g>
<g filter="url(#b1)"><rect x="2580" y="740" width="118" height="32" fill="#ead8ba"/>
<rect x="2580" y="746.0" width="118" height="2.5" fill="#a98c66"/>
<rect x="2580" y="753.5" width="118" height="2.5" fill="#a98c66"/>
<rect x="2580" y="761.0" width="118" height="2.5" fill="#a98c66"/>
<rect x="2580" y="768.5" width="118" height="2.5" fill="#a98c66"/>
<rect x="2574" y="772" width="130" height="7" fill="#6d5d48"/>
<path d="M2576,779 l-8,24 h6 l8,-24z M2696,779 l8,24 h6 l-8,-24z M2592,779 v20 h5 v-20z M2676,779 v20 h5 v-20z" fill="#4a4036"/></g>
<path d="M622,700 q10,-12 16,0 l8,44 h-30z" fill="#a89b86" filter="url(#b1)"/>
<g filter="url(#b1)"><ellipse cx="2300" cy="745" rx="10" ry="17" fill="#c9bfb0"/><ellipse cx="2334" cy="742" rx="13" ry="19" fill="#dbd9d2"/><circle cx="2337" cy="772" r="14" fill="none" stroke="#333" stroke-width="2.5"/><circle cx="2306" cy="773" r="12" fill="none" stroke="#333" stroke-width="2.5"/></g>
<g filter="url(#b1)"><path d="M1006,700 Q1006,690 1018,690 H1050 Q1066,692 1070,715 V772 H1006Z" fill="#e3e6e0"/><rect x="1010" y="708" width="30" height="28" fill="#bcc6c5"/><rect x="1030" y="748" width="42" height="26" rx="9" fill="#3a3d40"/></g>
</g>
<!-- ground -->
<rect x="10" y="846" width="2860" height="959" fill="#3b2a0c"/>
<rect x="10" y="1804.5" width="2860" height="611.5" fill="#d9d1c6"/>

<!-- wires -->
<path d="M192,686.4H481V697M388.5,686.4V696" fill="none" stroke="#fff" stroke-width="8.5" stroke-linecap="round" stroke-linejoin="round"/>
<path d="M394.2,763.4V850M478.5,760V850" fill="none" stroke="#fff" stroke-width="8.5" stroke-linecap="round" stroke-linejoin="round"/>
<path d="M478.5,656V703" fill="none" stroke="#fff" stroke-width="6" stroke-linecap="round" stroke-linejoin="round"/>
<path d="M1004,721.2H1268.2V733M1175,721.2V731" fill="none" stroke="#fff" stroke-width="8.5" stroke-linecap="round" stroke-linejoin="round"/>
<path d="M1180.7,797V850M1265,794V850" fill="none" stroke="#fff" stroke-width="8.5" stroke-linecap="round" stroke-linejoin="round"/>
<path d="M1285,759C1310,745 1340,731 1382,727" fill="none" stroke="#fff" stroke-width="6" stroke-linecap="round" stroke-linejoin="round"/>
<path d="M1874,659V499.5H2474.6V643" fill="none" stroke="#fff" stroke-width="10" stroke-linecap="round" stroke-linejoin="round"/>
<path d="M1818.3,673V659H1929V673" fill="none" stroke="#fff" stroke-width="10" stroke-linecap="round" stroke-linejoin="round"/>
<path d="M1826,775V834M1925.6,771V834" fill="none" stroke="#fff" stroke-width="8" stroke-linecap="round" stroke-linejoin="round"/>
<rect x="2126" y="579" width="148" height="250" fill="#fff" opacity="0.28"/>
<path d="M2108.5,845V556.7H2291.3V795.4H2352" fill="none" stroke="#fff" stroke-width="12.5" stroke-linecap="round" stroke-linejoin="round"/>
<path d="M2119.5,845V572.3H2280V807.5H2352" fill="none" stroke="#fff" stroke-width="12.5" stroke-linecap="round" stroke-linejoin="round"/>
<path d="M192,686.4H481V697M388.5,686.4V696" fill="none" stroke="#000" stroke-width="1.7" stroke-linejoin="miter"/>
<path d="M394.2,763.4V850M478.5,760V850" fill="none" stroke="#000" stroke-width="1.7" stroke-linejoin="miter"/>
<path d="M478.5,656V703" fill="none" stroke="#000" stroke-width="1.7" stroke-linejoin="miter"/>
<path d="M1004,721.2H1268.2V733M1175,721.2V731" fill="none" stroke="#000" stroke-width="1.7" stroke-linejoin="miter"/>
<path d="M1180.7,797V850M1265,794V850" fill="none" stroke="#000" stroke-width="1.7" stroke-linejoin="miter"/>
<path d="M1285,759C1310,745 1340,731 1382,727" fill="none" stroke="#000" stroke-width="1.5" stroke-linejoin="miter"/>
<path d="M1874,659V499.5H2474.6V643" fill="none" stroke="#000" stroke-width="2.2" stroke-linejoin="miter"/>
<path d="M1818.3,673V659H1929V673" fill="none" stroke="#000" stroke-width="2.2" stroke-linejoin="miter"/>
<path d="M1826,775V834M1925.6,771V834" fill="none" stroke="#000" stroke-width="1.8" stroke-linejoin="miter"/>
<path d="M2108.5,845V556.7H2291.3V795.4H2352" fill="none" stroke="#000" stroke-width="2.3" stroke-linejoin="miter"/>
<path d="M2119.5,845V572.3H2280V807.5H2352" fill="none" stroke="#000" stroke-width="2.3" stroke-linejoin="miter"/>
<path d="M2108.5,784L2114.6,811H2102.4Z" fill="#000" stroke="#fff" stroke-width="2" paint-order="stroke"/>

<!-- boxes -->
<!-- ground lines -->
<g fill="none" stroke-linecap="round">
<path d="M100,841H711" stroke="#fff" stroke-width="7.5"/>
<path d="M100,841H711" stroke="#000" stroke-width="1.5"/>
<path d="M886,841H1420" stroke="#fff" stroke-width="7.5"/>
<path d="M886,841H1420" stroke="#000" stroke-width="1.5"/>
</g>
<!-- pole base pipes 1 -->
<g fill="none">
<path d="M160.5,841V880.5H233M188.5,841V880M194,841V871.5H233" stroke="#fff" stroke-width="7.5"/>
<path d="M160.5,841V880.5H233M188.5,841V880M194,841V871.5H233" stroke="#000" stroke-width="1.4"/>
<path d="M945.5,841V881.5H1018M975.5,841V881M981,841V872H1018" stroke="#fff" stroke-width="7.5"/>
<path d="M945.5,841V881.5H1018M975.5,841V881M981,841V872H1018" stroke="#000" stroke-width="1.4"/>
</g>
<!-- box 1 -->
<rect x="231.5" y="850" width="320" height="537.5" fill="#e5d6c9" stroke="#fff" stroke-width="5"/>
<rect x="233.5" y="852" width="315.5" height="533.5" fill="none" stroke="#000" stroke-width="2"/>
<!-- box 2 -->
<rect x="1018" y="850" width="321" height="537.5" fill="#e5d6c9" stroke="#fff" stroke-width="5"/>
<rect x="1020" y="852" width="317" height="533.5" fill="none" stroke="#000" stroke-width="2"/>
<!-- box 3 -->
<path d="M1707.5,833.5H2528.5L2761.5,1347.5L1707.5,1349.5Z" fill="#e5d6c9" stroke="#fff" stroke-width="5" stroke-linejoin="miter"/>
<path d="M2527.5,832L2760.5,1347" fill="none" stroke="#fff" stroke-width="9" stroke-linecap="square"/>
<path d="M1710,836H2523.5L2754.5,1345.5L1710,1347Z" fill="none" stroke="#000" stroke-width="1.3"/>
<path d="M1714,840H2520.5L2748,1341.5L1714,1343Z" fill="none" stroke="#000" stroke-width="1.3"/>

<!-- water -->
<defs>
<linearGradient id="brz" x1="0" x2="0" y1="0" y2="1"><stop offset="0" stop-color="#b39a82"/><stop offset="0.12" stop-color="#c8b39c"/><stop offset="0.3" stop-color="#a88c72"/><stop offset="0.42" stop-color="#cdb9a3"/><stop offset="0.55" stop-color="#a98d73"/><stop offset="0.75" stop-color="#b9a188"/><stop offset="1" stop-color="#a08468"/></linearGradient>
<linearGradient id="brzx" x1="0" x2="1" y1="0" y2="0"><stop offset="0" stop-color="#fff" stop-opacity="0.25"/><stop offset="0.4" stop-color="#fff" stop-opacity="0"/><stop offset="0.75" stop-color="#000" stop-opacity="0.08"/><stop offset="1" stop-color="#fff" stop-opacity="0.2"/></linearGradient>
<linearGradient id="slv" x1="0" x2="0" y1="0" y2="1"><stop offset="0" stop-color="#a9a9a7"/><stop offset="0.06" stop-color="#d9d9d8"/><stop offset="0.1" stop-color="#9d9d9b"/><stop offset="0.14" stop-color="#dededd"/><stop offset="0.2" stop-color="#a6a6a4"/><stop offset="0.3" stop-color="#c2c2c0"/><stop offset="0.6" stop-color="#a8a8a6"/><stop offset="0.85" stop-color="#b8b8b6"/><stop offset="0.95" stop-color="#c9c9c7"/><stop offset="1" stop-color="#8f8f8d"/></linearGradient>
<linearGradient id="slvx" x1="0" x2="1" y1="0" y2="0"><stop offset="0" stop-color="#000" stop-opacity="0.12"/><stop offset="0.2" stop-color="#fff" stop-opacity="0.1"/><stop offset="0.5" stop-color="#000" stop-opacity="0.05"/><stop offset="0.8" stop-color="#fff" stop-opacity="0.15"/><stop offset="1" stop-color="#000" stop-opacity="0.1"/></linearGradient>
<radialGradient id="wat" cx="0.5" cy="0.3" r="0.8"><stop offset="0" stop-color="#a8cdd3"/><stop offset="0.5" stop-color="#6ea7b3"/><stop offset="1" stop-color="#4d8b9b"/></radialGradient>
<linearGradient id="wfx" x1="1713" x2="2600" y1="0" y2="0" gradientUnits="userSpaceOnUse"><stop offset="0" stop-color="#fff" stop-opacity="0"/><stop offset="0.08" stop-color="#fff" stop-opacity="1"/><stop offset="0.66" stop-color="#fff" stop-opacity="1"/><stop offset="0.8" stop-color="#fff" stop-opacity="0.5"/><stop offset="0.87" stop-color="#fff" stop-opacity="0.24"/><stop offset="0.93" stop-color="#fff" stop-opacity="0.08"/><stop offset="1" stop-color="#fff" stop-opacity="0"/></linearGradient>
<mask id="wmask" maskUnits="userSpaceOnUse" x="1700" y="1100" width="950" height="260"><rect x="1700" y="1100" width="950" height="260" fill="url(#wfx)"/></mask>
<clipPath id="wclip"><path d="M1713,1215C1740,1200 1755,1192 1774,1183C1840,1152 1890,1143.3 1942.4,1143.3C2010,1143.3 2060,1158 2104,1174C2140,1187 2165,1196 2194,1203C2225,1212 2255,1221 2300,1221C2350,1219 2385,1208 2418,1196C2470,1178 2510,1160 2544,1140L2610,1120V1324.5H1713Z"/></clipPath>
</defs>
<g clip-path="url(#wclip)"><g mask="url(#wmask)">
<rect x="1710" y="1120" width="900" height="205" fill="url(#wat)"/>
<g fill="none" stroke-linecap="round" filter="url(#b4)">
<path d="M1767,1177q110,-14 219,8q92,-10 185,0q72,-12 143,9q100,-9 200,-1q66,-14 132,3" stroke="#e6f1f1" stroke-width="10" opacity="0.9"/>
<path d="M1728,1172q94,-8 188,-5q98,-16 196,8q102,-9 203,14q70,-9 140,-6q94,-26 187,-5" stroke="#d3e6e8" stroke-width="14" opacity="0.8"/>
<path d="M1714,1186q75,-9 150,-6q110,-14 219,4q88,-10 176,0q93,-21 186,14q78,-13 157,-6" stroke="#3f7f92" stroke-width="12" opacity="0.6"/>
<path d="M1720,1204q102,-20 203,7q95,-26 190,2q80,-21 160,10q78,-28 156,-4q96,-25 192,6" stroke="#e9f3f2" stroke-width="8" opacity="0.85"/>
<path d="M1723,1209q84,-26 169,-6q104,-28 207,0q73,-27 146,9q84,-16 168,7q64,-10 129,14q72,-20 145,4" stroke="#4a8a9b" stroke-width="16" opacity="0.55"/>
<path d="M1721,1219q81,-28 162,7q108,-25 217,-2q76,-25 151,-6q64,-14 127,9q71,-11 142,0q88,-12 177,0" stroke="#cfe3e5" stroke-width="12" opacity="0.8"/>
<path d="M1726,1233q101,-16 202,-3q85,-15 170,0q60,-20 120,12q79,-28 158,0q72,-16 143,13q101,-10 202,-3" stroke="#3d7c8f" stroke-width="10" opacity="0.5"/>
<path d="M1715,1234q74,-14 147,2q60,-9 121,4q78,-16 157,-4q64,-26 129,0q97,-8 194,1q60,-9 121,5q84,-9 167,8" stroke="#e4efef" stroke-width="9" opacity="0.8"/>
<path d="M1726,1258q90,-10 181,-2q84,-23 169,14q70,-19 139,1q99,-21 198,0q70,-8 140,11q72,-16 145,9" stroke="#e6f1f1" stroke-width="10" opacity="0.9"/>
<path d="M1787,1252q86,-27 173,-3q66,-27 133,10q76,-21 152,6q76,-15 152,13q91,-19 182,10q71,-26 142,-2" stroke="#d3e6e8" stroke-width="14" opacity="0.8"/>
<path d="M1739,1275q96,-8 191,13q99,-26 198,2q74,-22 147,-6q64,-20 128,7q88,-21 177,-5q62,-23 125,3" stroke="#3f7f92" stroke-width="12" opacity="0.6"/>
<path d="M1757,1286q96,-24 193,-4q83,-24 166,8q81,-12 162,12q68,-10 137,-5q61,-13 122,5q104,-19 209,-5" stroke="#e9f3f2" stroke-width="8" opacity="0.85"/>
<path d="M1712,1299q100,-26 201,9q64,-19 128,4q68,-26 137,-4q88,-11 177,5q107,-27 214,-2q82,-17 163,-4" stroke="#4a8a9b" stroke-width="16" opacity="0.55"/>
<path d="M1770,1292q86,-28 173,9q96,-28 193,13q102,-16 204,6q97,-28 194,13q64,-26 129,-4" stroke="#cfe3e5" stroke-width="12" opacity="0.8"/>
<path d="M1724,1308q86,-18 173,6q107,-10 214,8q88,-14 176,11q65,-12 130,10q62,-19 123,13q66,-13 131,-6" stroke="#3d7c8f" stroke-width="10" opacity="0.5"/>
<path d="M1739,1332q67,-13 134,13q102,-13 204,2q60,-17 121,3q69,-9 138,0q93,-23 186,4q102,-14 204,9" stroke="#e4efef" stroke-width="9" opacity="0.8"/>
</g>
<ellipse cx="1820" cy="1290" rx="120" ry="40" fill="#4b8a9b" opacity="0.55" filter="url(#b14)"/>
<ellipse cx="2100" cy="1300" rx="160" ry="30" fill="#4f8e9e" opacity="0.5" filter="url(#b14)"/>
<ellipse cx="2000" cy="1200" rx="200" ry="18" fill="#e8f2f1" opacity="0.6" filter="url(#b8)"/>
<ellipse cx="2430" cy="1260" rx="120" ry="30" fill="#dfeceb" opacity="0.7" filter="url(#b14)"/>
<ellipse cx="2520" cy="1300" rx="90" ry="40" fill="#5b97a5" opacity="0.6" filter="url(#b14)"/>
</g></g>
<path d="M1774,1183C1840,1152 1890,1143.3 1942.4,1143.3C2010,1143.3 2060,1158 2104,1174C2140,1187 2165,1196 2194,1203C2225,1212 2255,1221 2300,1221C2350,1219 2385,1208 2418,1196C2470,1178 2510,1160 2544,1140" fill="none" stroke="#000" stroke-width="2.2"/>
<!-- pipes -->
<!-- cyan pipes -->
<g>
<rect x="553" y="1286" width="463" height="31" fill="#fff"/>
<rect x="549.5" y="1291" width="470" height="21" fill="#00e1ff"/>
<path d="M549,1291H1020M549,1312H1020" stroke="#000" stroke-width="1.8" fill="none"/>
<rect x="1341" y="1286" width="255" height="31" fill="#fff"/>
<rect x="1337.5" y="1291" width="258.5" height="21" fill="#00e1ff"/>
<path d="M1337,1291H1596M1337,1312H1596" stroke="#000" stroke-width="1.8" fill="none"/>
</g>
<!-- big stub pipe box3 -->
<path d="M1602,1271.5H1707V1329.5H1602A9,29 0 0 1 1602,1271.5Z" fill="#e5d6c9" stroke="#fff" stroke-width="5"/>
<path d="M1602,1273H1707M1602,1328H1707" stroke="#000" stroke-width="1.2" fill="none"/>
<ellipse cx="1602" cy="1300.5" rx="9" ry="27.5" fill="#e5d6c9" stroke="#000" stroke-width="1.2"/>
<!-- inner lines box1 -->
<path d="M392,1291H549M408,1312H549" stroke="#000" stroke-width="1.8" fill="none"/>
<!-- inner lines box2 -->
<path d="M1020,1291H1065.5V1332M1020,1311.6H1044V1332M1337,1290.8H1178.6V1324.4M1337,1311.4H1178.6M1195.3,1311.4V1324.4" stroke="#000" stroke-width="1.8" fill="none"/>
<!-- water curves -->
<path d="M260.5,1261C285,1240 300,1236 318,1236C370,1236 395,1281 448,1281C495,1281 525,1258 543.5,1236" stroke="#000" stroke-width="1.5" fill="none"/>
<path d="M1047,1230C1070,1211 1085,1206 1104,1206C1150,1206 1175,1250.5 1228,1250.5C1275,1250.5 1307,1230 1328,1206" stroke="#000" stroke-width="1.5" fill="none"/>
<!-- olive pipes -->
<g>
<path d="M137,1121.5H233V1143H137Z" fill="#bcae24" stroke="#fff" stroke-width="6" stroke-linejoin="round"/>
<path d="M137,1121.5H269V1231.5A11,3 0 0 1 247,1231.5V1143H137Z" fill="#bcae24" stroke="#000" stroke-width="1.3"/>
<ellipse cx="258" cy="1231.5" rx="11" ry="3" fill="#cbbf45" stroke="#000" stroke-width="1"/>
<path d="M922,1121.5H1018V1143H922Z" fill="#bcae24" stroke="#fff" stroke-width="6" stroke-linejoin="round"/>
<path d="M922,1121.5H1054V1231.5A10,3 0 0 1 1034,1231.5V1143H922Z" fill="#bcae24" stroke="#000" stroke-width="1.3"/>
<ellipse cx="1044" cy="1231.5" rx="10" ry="3" fill="#cbbf45" stroke="#000" stroke-width="1"/>
</g>
<!-- green feeder lines -->
<g fill="none">
<path d="M92,1290V1131H130" stroke="#fff" stroke-width="6" stroke-linejoin="round"/>
<path d="M92,1290V1131H130" stroke="#00ff00" stroke-width="1.6"/>
<path d="M878.5,1286V1131H916" stroke="#fff" stroke-width="6" stroke-linejoin="round"/>
<path d="M878.5,1286V1131H916" stroke="#00ff00" stroke-width="1.6"/>
</g>
<path d="M126,1125.5L146,1131L126,1136.5Z" fill="#000" stroke="#fff" stroke-width="2.5" paint-order="stroke"/>
<path d="M912,1125.5L932,1131L912,1136.5Z" fill="#000" stroke="#fff" stroke-width="2.5" paint-order="stroke"/>
<!-- blue pipes -->
<g fill="none" stroke-linecap="round" stroke-linejoin="round">
<path d="M1004,818.5H1052Q1058,818.5 1059,826L1061,846" stroke="#fff" stroke-width="17" stroke-linecap="butt"/>
<path d="M1004,818.5H1052Q1058,818.5 1059,826L1071,913.5L1086,1030.5L1124.5,1121V1248" stroke="#3300ff" stroke-width="11"/>
<path d="M2471,834L2429,1016L2309,1087.5L2298.5,1139" stroke="#3300ff" stroke-width="12"/>
</g>

<!-- arrows -->
<path d="M342.7,1199.6C337.9,1193.7 321.8,1181.0 314,1164C306.2,1147.0 298.8,1119.8 296,1097.6C293.2,1075.4 297.8,1053.0 297.5,1030.7C297.2,1008.4 295.7,980.6 294,963.8C292.3,947.0 291.4,941.1 287.5,930C283.6,918.9 276.4,904.9 270.8,896.9C265.2,888.9 256.8,884.3 254,881.8" fill="none" stroke="#ff0000" stroke-width="8" stroke-linecap="round" stroke-linejoin="round"/>
<path d="M284,883.5L254,881.8L259,912" fill="none" stroke="#ff0000" stroke-width="8" stroke-linecap="butt" stroke-linejoin="miter"/>
<path d="M424.6,1177.8C419.0,1175.0 401.6,1170.0 391,1161C380.4,1152.0 368.2,1140.2 361,1124C353.8,1107.8 351.4,1085.2 347.7,1064C344.0,1042.8 341.8,1016.5 339,997C336.2,977.5 334.0,958.7 331,947C328.0,935.3 325.5,933.2 321,927C316.5,920.8 306.8,912.8 304,910" fill="none" stroke="#ff0000" stroke-width="8" stroke-linecap="round" stroke-linejoin="round"/>
<path d="M334.3,918.6L304,910L305.9,940" fill="none" stroke="#ff0000" stroke-width="8" stroke-linecap="butt" stroke-linejoin="miter"/>
<path d="M463,1106C453.8,1100.1 420.5,1081.1 408,1070.8C395.5,1060.5 394.0,1054.6 387.8,1044C381.6,1033.4 376.6,1019.5 371,1007C365.4,994.5 357.2,975.2 354.4,968.8" fill="none" stroke="#ff0000" stroke-width="8" stroke-linecap="round" stroke-linejoin="round"/>
<path d="M383.8,982L354.4,968.8L351.7,1000.6" fill="none" stroke="#ff0000" stroke-width="8" stroke-linecap="butt" stroke-linejoin="miter"/>
<path d="M1157.7,1122.6C1154.9,1118.4 1146.6,1107.4 1141,1097.6C1135.4,1087.8 1130.5,1077.9 1124.3,1064C1118.1,1050.1 1109.6,1030.7 1104,1014C1098.4,997.3 1094.7,977.8 1090.8,963.8C1086.9,949.8 1084.7,940.0 1080.8,930C1076.9,920.0 1073.0,910.5 1067.4,903.6C1061.8,896.7 1050.7,891.0 1047.4,888.5" fill="none" stroke="#ff0000" stroke-width="8" stroke-linecap="round" stroke-linejoin="round"/>
<path d="M1078,891L1047.4,888.5L1054,918.6" fill="none" stroke="#ff0000" stroke-width="8" stroke-linecap="butt" stroke-linejoin="miter"/>
<path d="M1192.8,1151C1194.2,1144.8 1201.3,1126.2 1201,1114C1200.7,1101.8 1197.7,1091.4 1191,1077.5C1184.3,1063.6 1168.2,1046.9 1161,1030.7C1153.8,1014.5 1153.3,997.3 1147.7,980.5C1142.1,963.7 1135.1,943.4 1127.6,930C1120.1,916.6 1106.7,905.0 1102.5,900" fill="none" stroke="#ff0000" stroke-width="8" stroke-linecap="round" stroke-linejoin="round"/>
<path d="M1132.6,910L1102.5,900L1104,930" fill="none" stroke="#ff0000" stroke-width="8" stroke-linecap="butt" stroke-linejoin="miter"/>
<path d="M1264.7,1162.8C1265.8,1154.7 1273.6,1128.2 1271.4,1114C1269.2,1099.8 1262.0,1089.2 1251.4,1077.5C1240.8,1065.8 1219.1,1054.6 1207.9,1044C1196.8,1033.4 1190.7,1025.4 1184.5,1014C1178.3,1002.6 1173.2,981.9 1171,975.5" fill="none" stroke="#ff0000" stroke-width="8" stroke-linecap="round" stroke-linejoin="round"/>
<path d="M1199.5,987L1171,975.5L1168.4,1003.9" fill="none" stroke="#ff0000" stroke-width="8" stroke-linecap="butt" stroke-linejoin="miter"/>
<path d="M2026.6,1037.4C2026.8,1031.8 2025.5,1016.8 2028,1004C2030.5,991.2 2036.0,974.5 2041.6,960.5C2047.2,946.5 2055.6,932.3 2061.7,920C2067.8,907.7 2073.9,898.0 2078.4,886.9C2082.9,875.8 2086.7,859.0 2088.4,853.4" fill="none" stroke="#ff0000" stroke-width="7.5" stroke-linecap="round" stroke-linejoin="round"/>
<path d="M2071.7,873.5L2088.4,853.4L2096.8,880" fill="none" stroke="#ff0000" stroke-width="7.5" stroke-linecap="butt" stroke-linejoin="miter"/>
<path d="M2123.5,1035.7C2120.4,1030.9 2109.8,1019.5 2105,1007C2100.2,994.5 2095.0,976.1 2095,960.5C2095.0,944.9 2102.5,927.0 2105,913.6C2107.5,900.2 2109.4,890.0 2110,880C2110.6,870.0 2108.8,857.8 2108.5,853.4" fill="none" stroke="#ff0000" stroke-width="7.5" stroke-linecap="round" stroke-linejoin="round"/>
<path d="M2095,875L2108.5,853.4L2121,873.5" fill="none" stroke="#ff0000" stroke-width="7.5" stroke-linecap="butt" stroke-linejoin="miter"/>
<path d="M2235.6,1000C2228.9,996.2 2207.3,985.8 2195.5,977C2183.7,968.2 2172.8,958.2 2165,947C2157.2,935.8 2153.8,923.7 2148.6,910C2143.4,896.3 2136.1,872.5 2133.6,865" fill="none" stroke="#ff0000" stroke-width="7.5" stroke-linecap="round" stroke-linejoin="round"/>
<path d="M2158.7,875L2133.6,865L2128.6,892" fill="none" stroke="#ff0000" stroke-width="7.5" stroke-linecap="butt" stroke-linejoin="miter"/>
<text x="437" y="1052" font-size="35" font-weight="700" fill="#ff0000">H<tspan font-size="24">2</tspan>S</text>
<text x="1244" y="1039" font-size="35" font-weight="700" fill="#ff0000">H<tspan font-size="24">2</tspan>S</text>
<text x="2203" y="927" font-size="35" font-weight="700" fill="#ff0000">H<tspan font-size="24">2</tspan>S</text>
<!-- icons -->
<path d="M394,849V874M479,849V874M1181,849V874M1265.4,849V874" stroke="#000" stroke-width="1.5" fill="none"/>
<path d="M1826,832V892M1925.3,832V892" stroke="#000" stroke-width="1.8" fill="none"/>
<path d="M2108.5,832V846M2119.5,832V846" stroke="#000" stroke-width="2.2" fill="none"/>
<g filter="url(#halo)"><g fill="none" stroke="#00f000" stroke-linecap="round"><path d="M502.7,615L493.5,595.5M528,615L542,595.5" stroke-width="1.8" vector-effect="non-scaling-stroke"/><rect x="474.5" y="619.4" width="78.4" height="47.2" fill="#c9f9c9" stroke-width="1.9" vector-effect="non-scaling-stroke"/><rect x="477.8" y="622.7" width="71" height="40.6" stroke-width="1.9" vector-effect="non-scaling-stroke"/><path d="M466.8,621v9M466.8,628.3h10.5M466.8,630.2h6" stroke-width="1.5" vector-effect="non-scaling-stroke"/><circle cx="500" cy="626.8" r="2.2" stroke-width="1.3" vector-effect="non-scaling-stroke"/><circle cx="513" cy="626.8" r="2.2" stroke-width="1.3" vector-effect="non-scaling-stroke"/><circle cx="527" cy="626.8" r="2.2" stroke-width="1.3" vector-effect="non-scaling-stroke"/><path d="M518.62,643.36A3.2,3.2 0 0 1 523.38,643.36M518.62,647.64A3.2,3.2 0 0 0 523.38,647.64" stroke-width="1.5" stroke-linecap="butt" vector-effect="non-scaling-stroke"/><path d="M516.99,641.89A5.4,5.4 0 0 1 525.01,641.89M516.99,649.11A5.4,5.4 0 0 0 525.01,649.11" stroke-width="1.5" stroke-linecap="butt" vector-effect="non-scaling-stroke"/><path d="M515.35,640.41A7.6,7.6 0 0 1 526.65,640.41M515.35,650.59A7.6,7.6 0 0 0 526.65,650.59" stroke-width="1.5" stroke-linecap="butt" vector-effect="non-scaling-stroke"/><path d="M513.87,639.08A9.6,9.6 0 0 1 528.13,639.08M513.87,651.92A9.6,9.6 0 0 0 528.13,651.92" stroke-width="1.5" stroke-linecap="butt" vector-effect="non-scaling-stroke"/><circle cx="521" cy="645.5" r="1.4" fill="#00f000" stroke="none"/></g><path d="M513.5,667.5V724H499" fill="none" stroke="#00f000" stroke-width="1.8" stroke-linejoin="miter"/></g>
<g filter="url(#halo)"><g fill="none" stroke="#000" stroke-width="1.5" vector-effect="non-scaling-stroke"><rect x="374.7" y="712.4" width="38.4" height="50.3" fill="#fff" fill-opacity="0.0" vector-effect="non-scaling-stroke"/><rect x="374.7" y="712.4" width="38.4" height="17" fill="#fff" stroke="none"/><rect x="374.7" y="712.4" width="38.4" height="50.3" vector-effect="non-scaling-stroke"/><rect x="381" y="718.7" width="25.3" height="7.5" fill="#fff" vector-effect="non-scaling-stroke"/><rect x="385.8" y="745" width="15.7" height="7.6" rx="2" fill="#000" stroke="none"/><path d="M387,748.3h13M390.5,745v7.6M394,745v7.6M397.5,745v7.6" stroke="#fff" stroke-width="0.7" vector-effect="non-scaling-stroke"/></g></g>
<g filter="url(#halo)"><g><rect x="458.5" y="703" width="42" height="42" fill="#fff" stroke="#000" stroke-width="1" vector-effect="non-scaling-stroke"/><path d="M459.5,707h6M462.5,704v6" stroke="#f00" stroke-width="2.2" vector-effect="non-scaling-stroke"/><path d="M493.5,707h6M496.5,704v6" stroke="#f00" stroke-width="2.2" vector-effect="non-scaling-stroke"/><path d="M459.5,741h6M462.5,738v6" stroke="#f00" stroke-width="2.2" vector-effect="non-scaling-stroke"/><path d="M493.5,741h6M496.5,738v6" stroke="#f00" stroke-width="2.2" vector-effect="non-scaling-stroke"/><circle cx="479.5" cy="724" r="19.6" fill="#fff" stroke="#000" stroke-width="1.2" vector-effect="non-scaling-stroke"/><circle cx="479.5" cy="724"  r="15.6" fill="none" stroke="#000" stroke-width="6.4" vector-effect="non-scaling-stroke"/><circle cx="479.5" cy="724" r="11.6" fill="#000"/><rect x="471.3" y="718.4" width="16.4" height="11.2" rx="4" fill="none" stroke="#fff" stroke-width="1.3" vector-effect="non-scaling-stroke"/><rect x="474.5" y="721" width="10" height="4" rx="1.5" fill="none" stroke="#fff" stroke-width="1" vector-effect="non-scaling-stroke"/><path d="M473.5,727.2h12" stroke="#fff" stroke-width="1" vector-effect="non-scaling-stroke"/><path d="M466.0,710.5l3,3M493.0,710.5l-3,3M466.0,737.5l3,-3M493.0,737.5l-3,-3M460.5,724h5M493.5,724h5" stroke="#fff" stroke-width="1.2" vector-effect="non-scaling-stroke"/><rect x="453.5" y="719" width="5" height="10.5" rx="2" fill="#000"/><rect x="500.5" y="719" width="4.5" height="10.5" rx="1" fill="#000"/><path d="M472.5,746.5h14v4.5h-14zM474.5,751h10v9h-10zM479.5,751v9" fill="#fff" stroke="#000" stroke-width="1.6" vector-effect="non-scaling-stroke"/><rect x="473" y="746" width="13" height="4.6" fill="#000"/><path d="M454,752.3h11l7,1.6" fill="none" stroke="#000" stroke-width="1" vector-effect="non-scaling-stroke"/><path d="M456,755.5h10" stroke="#555" stroke-width="0.6" vector-effect="non-scaling-stroke"/><path d="M493,742l4,6" stroke="#000" stroke-width="1.6" vector-effect="non-scaling-stroke"/><rect x="495.8" y="747" width="6" height="20.5" rx="2" fill="#000"/></g></g>
<ellipse cx="499" cy="673.5" rx="2.5" ry="1.3" fill="#000" stroke="#fff" stroke-width="3" paint-order="stroke"/>
<g filter="url(#halo)"><g transform="translate(786.3,34.8)"><g fill="none" stroke="#00f000" stroke-linecap="round"><path d="M502.7,615L493.5,595.5M528,615L542,595.5" stroke-width="1.8" vector-effect="non-scaling-stroke"/><rect x="474.5" y="619.4" width="78.4" height="47.2" fill="#c9f9c9" stroke-width="1.9" vector-effect="non-scaling-stroke"/><rect x="477.8" y="622.7" width="71" height="40.6" stroke-width="1.9" vector-effect="non-scaling-stroke"/><path d="M466.8,621v9M466.8,628.3h10.5M466.8,630.2h6" stroke-width="1.5" vector-effect="non-scaling-stroke"/><circle cx="500" cy="626.8" r="2.2" stroke-width="1.3" vector-effect="non-scaling-stroke"/><circle cx="513" cy="626.8" r="2.2" stroke-width="1.3" vector-effect="non-scaling-stroke"/><circle cx="527" cy="626.8" r="2.2" stroke-width="1.3" vector-effect="non-scaling-stroke"/><path d="M518.62,643.36A3.2,3.2 0 0 1 523.38,643.36M518.62,647.64A3.2,3.2 0 0 0 523.38,647.64" stroke-width="1.5" stroke-linecap="butt" vector-effect="non-scaling-stroke"/><path d="M516.99,641.89A5.4,5.4 0 0 1 525.01,641.89M516.99,649.11A5.4,5.4 0 0 0 525.01,649.11" stroke-width="1.5" stroke-linecap="butt" vector-effect="non-scaling-stroke"/><path d="M515.35,640.41A7.6,7.6 0 0 1 526.65,640.41M515.35,650.59A7.6,7.6 0 0 0 526.65,650.59" stroke-width="1.5" stroke-linecap="butt" vector-effect="non-scaling-stroke"/><path d="M513.87,639.08A9.6,9.6 0 0 1 528.13,639.08M513.87,651.92A9.6,9.6 0 0 0 528.13,651.92" stroke-width="1.5" stroke-linecap="butt" vector-effect="non-scaling-stroke"/><circle cx="521" cy="645.5" r="1.4" fill="#00f000" stroke="none"/></g></g></g>
<g filter="url(#halo)"><path d="M1300.5,703V758.6H1285" fill="none" stroke="#00f000" stroke-width="1.8" stroke-linejoin="miter"/></g>
<g filter="url(#halo)"><g transform="translate(786.3,34.8)"><g fill="none" stroke="#000" stroke-width="1.5" vector-effect="non-scaling-stroke"><rect x="374.7" y="712.4" width="38.4" height="50.3" fill="#fff" fill-opacity="0.0" vector-effect="non-scaling-stroke"/><rect x="374.7" y="712.4" width="38.4" height="17" fill="#fff" stroke="none"/><rect x="374.7" y="712.4" width="38.4" height="50.3" vector-effect="non-scaling-stroke"/><rect x="381" y="718.7" width="25.3" height="7.5" fill="#fff" vector-effect="non-scaling-stroke"/><rect x="385.8" y="745" width="15.7" height="7.6" rx="2" fill="#000" stroke="none"/><path d="M387,748.3h13M390.5,745v7.6M394,745v7.6M397.5,745v7.6" stroke="#fff" stroke-width="0.7" vector-effect="non-scaling-stroke"/></g></g></g>
<g filter="url(#halo)"><g transform="translate(786.3,34.8)"><g><rect x="458.5" y="703" width="42" height="42" fill="#fff" stroke="#000" stroke-width="1" vector-effect="non-scaling-stroke"/><path d="M459.5,707h6M462.5,704v6" stroke="#f00" stroke-width="2.2" vector-effect="non-scaling-stroke"/><path d="M493.5,707h6M496.5,704v6" stroke="#f00" stroke-width="2.2" vector-effect="non-scaling-stroke"/><path d="M459.5,741h6M462.5,738v6" stroke="#f00" stroke-width="2.2" vector-effect="non-scaling-stroke"/><path d="M493.5,741h6M496.5,738v6" stroke="#f00" stroke-width="2.2" vector-effect="non-scaling-stroke"/><circle cx="479.5" cy="724" r="19.6" fill="#fff" stroke="#000" stroke-width="1.2" vector-effect="non-scaling-stroke"/><circle cx="479.5" cy="724"  r="15.6" fill="none" stroke="#000" stroke-width="6.4" vector-effect="non-scaling-stroke"/><circle cx="479.5" cy="724" r="11.6" fill="#000"/><rect x="471.3" y="718.4" width="16.4" height="11.2" rx="4" fill="none" stroke="#fff" stroke-width="1.3" vector-effect="non-scaling-stroke"/><rect x="474.5" y="721" width="10" height="4" rx="1.5" fill="none" stroke="#fff" stroke-width="1" vector-effect="non-scaling-stroke"/><path d="M473.5,727.2h12" stroke="#fff" stroke-width="1" vector-effect="non-scaling-stroke"/><path d="M466.0,710.5l3,3M493.0,710.5l-3,3M466.0,737.5l3,-3M493.0,737.5l-3,-3M460.5,724h5M493.5,724h5" stroke="#fff" stroke-width="1.2" vector-effect="non-scaling-stroke"/><rect x="453.5" y="719" width="5" height="10.5" rx="2" fill="#000"/><rect x="500.5" y="719" width="4.5" height="10.5" rx="1" fill="#000"/><path d="M472.5,746.5h14v4.5h-14zM474.5,751h10v9h-10zM479.5,751v9" fill="#fff" stroke="#000" stroke-width="1.6" vector-effect="non-scaling-stroke"/><rect x="473" y="746" width="13" height="4.6" fill="#000"/><path d="M454,752.3h11l7,1.6" fill="none" stroke="#000" stroke-width="1" vector-effect="non-scaling-stroke"/><path d="M456,755.5h10" stroke="#555" stroke-width="0.6" vector-effect="non-scaling-stroke"/><path d="M493,742l4,6" stroke="#000" stroke-width="1.6" vector-effect="non-scaling-stroke"/><rect x="495.8" y="747" width="6" height="20.5" rx="2" fill="#000"/></g></g></g>
<g filter="url(#halo)"><g transform="matrix(1.183,0,0,1.543,1358.63,-399.35)"><g fill="none" stroke="#00f000" stroke-linecap="round"><path d="M502.7,615L493.5,595.5M528,615L542,595.5" stroke-width="2.34" vector-effect="non-scaling-stroke"/><rect x="474.5" y="619.4" width="78.4" height="47.2" fill="#c9f9c9" stroke-width="2.47" vector-effect="non-scaling-stroke"/><rect x="477.8" y="622.7" width="71" height="40.6" stroke-width="2.47" vector-effect="non-scaling-stroke"/><path d="M466.8,621v9M466.8,628.3h10.5M466.8,630.2h6" stroke-width="1.95" vector-effect="non-scaling-stroke"/><circle cx="500" cy="626.8" r="2.2" stroke-width="1.69" vector-effect="non-scaling-stroke"/><circle cx="513" cy="626.8" r="2.2" stroke-width="1.69" vector-effect="non-scaling-stroke"/><circle cx="527" cy="626.8" r="2.2" stroke-width="1.69" vector-effect="non-scaling-stroke"/><path d="M518.62,643.36A3.2,3.2 0 0 1 523.38,643.36M518.62,647.64A3.2,3.2 0 0 0 523.38,647.64" stroke-width="1.95" stroke-linecap="butt" vector-effect="non-scaling-stroke"/><path d="M516.99,641.89A5.4,5.4 0 0 1 525.01,641.89M516.99,649.11A5.4,5.4 0 0 0 525.01,649.11" stroke-width="1.95" stroke-linecap="butt" vector-effect="non-scaling-stroke"/><path d="M515.35,640.41A7.6,7.6 0 0 1 526.65,640.41M515.35,650.59A7.6,7.6 0 0 0 526.65,650.59" stroke-width="1.95" stroke-linecap="butt" vector-effect="non-scaling-stroke"/><path d="M513.87,639.08A9.6,9.6 0 0 1 528.13,639.08M513.87,651.92A9.6,9.6 0 0 0 528.13,651.92" stroke-width="1.95" stroke-linecap="butt" vector-effect="non-scaling-stroke"/><circle cx="521" cy="645.5" r="1.4" fill="#00f000" stroke="none"/></g></g></g>
<g filter="url(#halo)"><path d="M1966.4,630.6V715.6H1949" fill="none" stroke="#00f000" stroke-width="2.43" stroke-linejoin="miter"/></g>
<g filter="url(#halo)"><g transform="matrix(1.196,0,0,1.495,1353.70,-366.49)"><g fill="none" stroke="#000" stroke-width="2.10" vector-effect="non-scaling-stroke"><rect x="374.7" y="712.4" width="38.4" height="50.3" fill="#fff" fill-opacity="0.0" vector-effect="non-scaling-stroke"/><rect x="374.7" y="712.4" width="38.4" height="17" fill="#fff" stroke="none"/><rect x="374.7" y="712.4" width="38.4" height="50.3" vector-effect="non-scaling-stroke"/><rect x="381" y="718.7" width="25.3" height="7.5" fill="#fff" vector-effect="non-scaling-stroke"/><rect x="385.8" y="745" width="15.7" height="7.6" rx="2" fill="#000" stroke="none"/><path d="M387,748.3h13M390.5,745v7.6M394,745v7.6M397.5,745v7.6" stroke="#fff" stroke-width="0.98" vector-effect="non-scaling-stroke"/></g></g></g>
<g filter="url(#halo)"><g transform="matrix(1.152,0,0,1.507,1373.11,-375.12)"><g><rect x="458.5" y="703" width="42" height="42" fill="#fff" stroke="#000" stroke-width="1.30" vector-effect="non-scaling-stroke"/><path d="M459.5,707h6M462.5,704v6" stroke="#f00" stroke-width="2.86" vector-effect="non-scaling-stroke"/><path d="M493.5,707h6M496.5,704v6" stroke="#f00" stroke-width="2.86" vector-effect="non-scaling-stroke"/><path d="M459.5,741h6M462.5,738v6" stroke="#f00" stroke-width="2.86" vector-effect="non-scaling-stroke"/><path d="M493.5,741h6M496.5,738v6" stroke="#f00" stroke-width="2.86" vector-effect="non-scaling-stroke"/><circle cx="479.5" cy="724" r="19.6" fill="#fff" stroke="#000" stroke-width="1.56" vector-effect="non-scaling-stroke"/><circle cx="479.5" cy="724"  r="15.6" fill="none" stroke="#000" stroke-width="8.32" vector-effect="non-scaling-stroke"/><circle cx="479.5" cy="724" r="11.6" fill="#000"/><rect x="471.3" y="718.4" width="16.4" height="11.2" rx="4" fill="none" stroke="#fff" stroke-width="1.69" vector-effect="non-scaling-stroke"/><rect x="474.5" y="721" width="10" height="4" rx="1.5" fill="none" stroke="#fff" stroke-width="1.30" vector-effect="non-scaling-stroke"/><path d="M473.5,727.2h12" stroke="#fff" stroke-width="1.30" vector-effect="non-scaling-stroke"/><path d="M466.0,710.5l3,3M493.0,710.5l-3,3M466.0,737.5l3,-3M493.0,737.5l-3,-3M460.5,724h5M493.5,724h5" stroke="#fff" stroke-width="1.56" vector-effect="non-scaling-stroke"/><rect x="453.5" y="719" width="5" height="10.5" rx="2" fill="#000"/><rect x="500.5" y="719" width="4.5" height="10.5" rx="1" fill="#000"/><path d="M472.5,746.5h14v4.5h-14zM474.5,751h10v9h-10zM479.5,751v9" fill="#fff" stroke="#000" stroke-width="2.08" vector-effect="non-scaling-stroke"/><rect x="473" y="746" width="13" height="4.6" fill="#000"/><path d="M454,752.3h11l7,1.6" fill="none" stroke="#000" stroke-width="1.30" vector-effect="non-scaling-stroke"/><path d="M456,755.5h10" stroke="#555" stroke-width="0.78" vector-effect="non-scaling-stroke"/><path d="M493,742l4,6" stroke="#000" stroke-width="2.08" vector-effect="non-scaling-stroke"/><rect x="495.8" y="747" width="6" height="20.5" rx="2" fill="#000"/></g></g></g>
<g fill="none" stroke="#000" stroke-width="1.6" vector-effect="non-scaling-stroke"><path d="M390.5,876.4v-2.6h7.5v2.6" fill="#000" stroke-width="1" vector-effect="non-scaling-stroke"/><rect x="380.6" y="876.8" width="30.8" height="6.6" vector-effect="non-scaling-stroke"/><path d="M388,876.8v6.6M403.3,876.8v6.6" vector-effect="non-scaling-stroke"/><path d="M411.4,876.8h6.3v28h-6.3" stroke-width="1.3" vector-effect="non-scaling-stroke"/><rect x="382" y="883.4" width="28" height="21.6" vector-effect="non-scaling-stroke"/><rect x="381.4" y="900" width="29.2" height="5.3" fill="#000" stroke="none"/><path d="M383.5,907.8h27.6M380,911.5h33.4M377.3,915h37.4" stroke-width="1.4" stroke-linecap="round" vector-effect="non-scaling-stroke"/></g>
<g transform="translate(85,0)"><g fill="none" stroke="#000" stroke-width="1.6" vector-effect="non-scaling-stroke"><path d="M390.5,876.4v-2.6h7.5v2.6" fill="#000" stroke-width="1" vector-effect="non-scaling-stroke"/><rect x="380.6" y="876.8" width="30.8" height="6.6" vector-effect="non-scaling-stroke"/><path d="M388,876.8v6.6M403.3,876.8v6.6" vector-effect="non-scaling-stroke"/><path d="M411.4,876.8h6.3v28h-6.3" stroke-width="1.3" vector-effect="non-scaling-stroke"/><rect x="382" y="883.4" width="28" height="21.6" vector-effect="non-scaling-stroke"/><rect x="381.4" y="900" width="29.2" height="5.3" fill="#000" stroke="none"/><path d="M383.5,907.8h27.6M380,911.5h33.4M377.3,915h37.4" stroke-width="1.4" stroke-linecap="round" vector-effect="non-scaling-stroke"/></g></g>
<g transform="translate(787,0)"><g fill="none" stroke="#000" stroke-width="1.6" vector-effect="non-scaling-stroke"><path d="M390.5,876.4v-2.6h7.5v2.6" fill="#000" stroke-width="1" vector-effect="non-scaling-stroke"/><rect x="380.6" y="876.8" width="30.8" height="6.6" vector-effect="non-scaling-stroke"/><path d="M388,876.8v6.6M403.3,876.8v6.6" vector-effect="non-scaling-stroke"/><path d="M411.4,876.8h6.3v28h-6.3" stroke-width="1.3" vector-effect="non-scaling-stroke"/><rect x="382" y="883.4" width="28" height="21.6" vector-effect="non-scaling-stroke"/><rect x="381.4" y="900" width="29.2" height="5.3" fill="#000" stroke="none"/><path d="M383.5,907.8h27.6M380,911.5h33.4M377.3,915h37.4" stroke-width="1.4" stroke-linecap="round" vector-effect="non-scaling-stroke"/></g></g>
<g transform="translate(871.4,0)"><g fill="none" stroke="#000" stroke-width="1.6" vector-effect="non-scaling-stroke"><path d="M390.5,876.4v-2.6h7.5v2.6" fill="#000" stroke-width="1" vector-effect="non-scaling-stroke"/><rect x="380.6" y="876.8" width="30.8" height="6.6" vector-effect="non-scaling-stroke"/><path d="M388,876.8v6.6M403.3,876.8v6.6" vector-effect="non-scaling-stroke"/><path d="M411.4,876.8h6.3v28h-6.3" stroke-width="1.3" vector-effect="non-scaling-stroke"/><rect x="382" y="883.4" width="28" height="21.6" vector-effect="non-scaling-stroke"/><rect x="381.4" y="900" width="29.2" height="5.3" fill="#000" stroke="none"/><path d="M383.5,907.8h27.6M380,911.5h33.4M377.3,915h37.4" stroke-width="1.4" stroke-linecap="round" vector-effect="non-scaling-stroke"/></g></g>
<g transform="matrix(1.26,0,0,1.52,1329.56,-435.72)"><g fill="none" stroke="#000" stroke-width="2.16" vector-effect="non-scaling-stroke"><path d="M390.5,876.4v-2.6h7.5v2.6" fill="#000" stroke-width="1.35" vector-effect="non-scaling-stroke"/><rect x="380.6" y="876.8" width="30.8" height="6.6" vector-effect="non-scaling-stroke"/><path d="M388,876.8v6.6M403.3,876.8v6.6" vector-effect="non-scaling-stroke"/><path d="M411.4,876.8h6.3v28h-6.3" stroke-width="1.76" vector-effect="non-scaling-stroke"/><rect x="382" y="883.4" width="28" height="21.6" vector-effect="non-scaling-stroke"/><rect x="381.4" y="900" width="29.2" height="5.3" fill="#000" stroke="none"/><path d="M383.5,907.8h27.6M380,911.5h33.4M377.3,915h37.4" stroke-width="1.89" stroke-linecap="round" vector-effect="non-scaling-stroke"/></g></g>
<g transform="matrix(1.26,0,0,1.52,1428.86,-435.72)"><g fill="none" stroke="#000" stroke-width="2.16" vector-effect="non-scaling-stroke"><path d="M390.5,876.4v-2.6h7.5v2.6" fill="#000" stroke-width="1.35" vector-effect="non-scaling-stroke"/><rect x="380.6" y="876.8" width="30.8" height="6.6" vector-effect="non-scaling-stroke"/><path d="M388,876.8v6.6M403.3,876.8v6.6" vector-effect="non-scaling-stroke"/><path d="M411.4,876.8h6.3v28h-6.3" stroke-width="1.76" vector-effect="non-scaling-stroke"/><rect x="382" y="883.4" width="28" height="21.6" vector-effect="non-scaling-stroke"/><rect x="381.4" y="900" width="29.2" height="5.3" fill="#000" stroke="none"/><path d="M383.5,907.8h27.6M380,911.5h33.4M377.3,915h37.4" stroke-width="1.89" stroke-linecap="round" vector-effect="non-scaling-stroke"/></g></g>
<rect x="373" y="923" width="50" height="47" fill="#0055ff"/><text x="398.0" y="959.8" font-size="37" fill="#fff" text-anchor="middle">A</text>
<rect x="458" y="923" width="50" height="47" fill="#0055ff"/><text x="483.0" y="959.8" font-size="37" fill="#fff" text-anchor="middle">B</text>
<rect x="1162.7" y="923" width="50" height="47" fill="#0055ff"/><text x="1187.7" y="959.8" font-size="37" fill="#fff" text-anchor="middle">A</text>
<rect x="1248" y="923" width="50" height="47" fill="#0055ff"/><text x="1273.0" y="959.8" font-size="37" fill="#fff" text-anchor="middle">B</text>
<rect x="1817" y="970" width="50" height="47" fill="#0055ff"/><text x="1842.0" y="1006.8" font-size="37" fill="#fff" text-anchor="middle">A</text>
<rect x="1902" y="970" width="50" height="47" fill="#0055ff"/><text x="1927.0" y="1006.8" font-size="37" fill="#fff" text-anchor="middle">B</text>
<rect x="92.9" y="1217.8" width="58.4" height="55.2" rx="3" fill="#fff"/><rect x="96.9" y="1221.8" width="50.4" height="47.2" fill="#0055ff"/><text x="122.10000000000001" y="1258.7" font-size="37" fill="#fff" text-anchor="middle">C</text>
<rect x="2567.2" y="1193.3" width="49.5" height="46.2" fill="#0055ff"/><text x="2591.95" y="1229.7" font-size="37" fill="#fff" text-anchor="middle">D</text>
<rect x="2787.3" y="1023.2" width="57" height="54.3" rx="3" fill="#fff"/><rect x="2791.3" y="1027.2" width="49" height="46.3" fill="#0055ff"/><text x="2815.8" y="1063.7" font-size="37" fill="#fff" text-anchor="middle">E</text>
<g filter="url(#halo)"><defs><linearGradient id="poleg" x1="0" x2="1" y1="0" y2="0"><stop offset="0" stop-color="#e3dc62"/><stop offset="0.14" stop-color="#d2cc6e"/><stop offset="0.36" stop-color="#3d3df5"/><stop offset="0.66" stop-color="#3a3af8"/><stop offset="0.86" stop-color="#cfc96e"/><stop offset="1" stop-color="#e6df60"/></linearGradient><linearGradient id="armg" x1="192" x2="300" y1="0" y2="0" gradientUnits="userSpaceOnUse"><stop offset="0" stop-color="#3c3cf0"/><stop offset="0.25" stop-color="#7f84c8"/><stop offset="0.55" stop-color="#e8e04a"/><stop offset="0.8" stop-color="#f1e93a"/><stop offset="1" stop-color="#c9c88a"/></linearGradient></defs><path d="M162.3,544.8A14.6,8.8 0 0 1 191,544.8Z" fill="#fff" stroke="#000" stroke-width="1.4"/><rect x="162.3" y="544.8" width="28.7" height="293" fill="url(#poleg)" stroke="#000" stroke-width="1.4"/><path d="M168.5,806V838M184.5,806V838" stroke="#000" stroke-width="1.2"/><path d="M159,838H194" stroke="#000" stroke-width="2.5"/><path d="M191.5,558.5L276.6,539.9L352,557.8L313.8,548C285,545.5 240,551 191.5,568.4Z" fill="url(#armg)" stroke="#000" stroke-width="1.3" stroke-linejoin="round"/><path d="M352.3,557.9A7.8,5.2 0 0 1 367.8,557.9Z" fill="#fff" stroke="#000" stroke-width="1.3"/><path d="M353.5,559.7L338,572.8M356.5,559.7L351,569.7M359.8,559.7V568.4M363.3,559.7L368.5,569.7M366,559.7L374,572" stroke="#000" stroke-width="1.2" fill="none"/></g>
<g><path d="M80,1292.5H164L176.3,1308.3L164,1325.4H80Q74,1325.4 74,1319.5V1298.5Q74,1292.5 80,1292.5Z" fill="#3b2a0c" stroke="#fff" stroke-width="11" stroke-linejoin="round"/><path d="M80,1292.5H164L176.3,1308.3L164,1325.4H80Q74,1325.4 74,1319.5V1298.5Q74,1292.5 80,1292.5Z" fill="none" stroke="#000" stroke-width="3" stroke-linejoin="round"/><text x="116.5" y="1315" font-size="12.5" font-weight="700" fill="#000" stroke="#fff" stroke-width="5" stroke-linejoin="round" paint-order="stroke" text-anchor="middle" textLength="63" lengthAdjust="spacingAndGlyphs">TO : 폐수 유입</text><path d="M2540,1247.8H2645L2656,1272L2645,1296.6H2540Q2536,1296.6 2536,1292.6V1251.8Q2536,1247.8 2540,1247.8Z" fill="#e5d6c9" fill-opacity="0.35" stroke="#000" stroke-width="2.2" stroke-linejoin="round"/><text x="2586" y="1282" font-size="17" font-weight="700" fill="#222" text-anchor="middle" textLength="75" lengthAdjust="spacingAndGlyphs">TO : 유수 방출</text><path d="M2726,1271.8H2781.3" stroke="#fff" stroke-width="11" stroke-linecap="round"/><path d="M2657,1271.8H2781" stroke="#00ee00" stroke-width="2.6"/><g filter="url(#halo)"><path d="M2796,1267.6L2812,1272.2L2796,1276.8Z" fill="#000"/></g><ellipse cx="2824" cy="1272.2" rx="9.3" ry="23.4" fill="none" stroke="#fff" stroke-width="7"/><ellipse cx="2824" cy="1272.2" rx="9.3" ry="23.4" fill="none" stroke="#000" stroke-width="0.9"/><path d="M2650,1046.8H2781" stroke="#fff" stroke-width="11.5" stroke-linecap="round"/><path d="M2652,1046.8H2781" stroke="#00ee00" stroke-width="3"/><path d="M2633.4,1046.8L2654.3,1039V1054.5Z" fill="#000" stroke="#fff" stroke-width="5" stroke-linejoin="round" paint-order="stroke"/></g>
<g filter="url(#halo)"><g fill="none" stroke="#000" stroke-width="1.6"><rect x="2678.3" y="1424.5" width="98.6" height="62"/><path d="M2705.9,1486.5V1501M2751,1486.5V1501"/><rect x="2661.9" y="1500.7" width="129.3" height="42.2"/><rect x="2670.8" y="1506.8" width="17.7" height="5.5"/><circle cx="2781.7" cy="1508.9" r="3.2"/></g></g>
<!-- devices -->
<g>
<path d="M899.6,634.3H1015.6V639L1005.5,651H910.5L899.6,639Z" fill="#7d6250"/>
<path d="M899.6,634.3H1015.6V638.5H899.6Z" fill="#94776a"/>
<rect x="910" y="643.5" width="94" height="192" fill="url(#brz)"/>
<rect x="910" y="643.5" width="94" height="192" fill="url(#brzx)"/>
<rect x="910" y="643.5" width="94" height="7" fill="#6e5544" opacity="0.6"/>
<path d="M976.5,645V835" stroke="#5d4a3c" stroke-width="1.2"/>
<rect x="915" y="652" width="56" height="83" fill="none" stroke="#8c735f" stroke-width="0.8"/>
<rect x="927" y="646" width="34" height="4" fill="#cfc4b6"/>
<rect x="925.6" y="657.8" width="35.4" height="72.6" rx="6.5" fill="#d6c6c0" stroke="#111" stroke-width="1.8"/>
<rect x="937.5" y="662" width="11" height="11" fill="#2b3040"/>
<circle cx="954" cy="682.5" r="5.2" fill="#eee" stroke="#333" stroke-width="1"/>
<rect x="928.5" y="680" width="9" height="4.5" fill="#4a2a2a"/>
<rect x="930" y="690.5" width="26" height="3.6" fill="#eee" stroke="#555" stroke-width="0.5"/>
<circle cx="931.0" cy="708.5" r="1.6" fill="#777"/>
<circle cx="939.4" cy="708.5" r="1.6" fill="#777"/>
<circle cx="947.8" cy="708.5" r="1.6" fill="#777"/>
<circle cx="956.2" cy="708.5" r="1.6" fill="#777"/>
<circle cx="931.0" cy="714.4" r="1.6" fill="#c0392b"/>
<circle cx="939.4" cy="714.4" r="1.6" fill="#c0392b"/>
<circle cx="947.8" cy="714.4" r="1.6" fill="#c0392b"/>
<circle cx="956.2" cy="714.4" r="1.6" fill="#c0392b"/>
<circle cx="931.0" cy="720.3" r="1.6" fill="#2e8b57"/>
<circle cx="939.4" cy="720.3" r="1.6" fill="#2e8b57"/>
<circle cx="947.8" cy="720.3" r="1.6" fill="#2e8b57"/>
<circle cx="956.2" cy="720.3" r="1.6" fill="#2e8b57"/>
<circle cx="931.0" cy="726.2" r="1.6" fill="#d4a017"/>
<circle cx="939.4" cy="726.2" r="1.6" fill="#d4a017"/>
<circle cx="947.8" cy="726.2" r="1.6" fill="#d4a017"/>
<circle cx="956.2" cy="726.2" r="1.6" fill="#d4a017"/>
<circle cx="935" cy="701" r="1.5" fill="#555"/><circle cx="952" cy="701" r="1.5" fill="#555"/>
<rect x="962" y="689" width="3" height="11" rx="1.5" fill="#d9dde6" stroke="#777" stroke-width="0.5"/>
<rect x="965.4" y="738" width="3.3" height="13" rx="1.6" fill="#ddd" stroke="#777" stroke-width="0.5"/>
<rect x="928.9" y="817.6" width="13.7" height="13" fill="#d6d6d4"/><rect x="945.2" y="817.6" width="13.7" height="13" fill="#d6d6d4"/>
<rect x="912" y="834.5" width="92" height="2.5" fill="#444"/>
</g>
<g>
<g filter="url(#halo)"><path d="M2413.8,590V642.2M2421.2,590V642.2" stroke="#000" stroke-width="2.2"/><path d="M2408,590Q2408.5,576 2418,575.5Q2427.5,576 2428,590Z" fill="#000"/><path d="M2411.5,583.5l6.5,3l6.5,-3" stroke="#fff" stroke-width="1.6" fill="none"/><rect x="2414.9" y="590" width="5.2" height="52" fill="#fff"/></g>
<g filter="url(#halo)"><path d="M2378,592.5H2406" stroke="#888" stroke-width="1.6"/><text x="2351.5" y="598" font-size="15" font-weight="700" fill="#111" textLength="22.5" lengthAdjust="spacingAndGlyphs">방출</text></g>
<path d="M2350.5,642.2H2561.8L2558,832.8H2350.5Z" fill="url(#slv)"/>
<path d="M2350.5,642.2H2561.8L2558,832.8H2350.5Z" fill="url(#slvx)"/>
<path d="M2392.5,643V832" stroke="#6f6f6d" stroke-width="1.3"/>
<path d="M2394.0,643V832" stroke="#e6e6e4" stroke-width="0.8" opacity="0.7"/>
<path d="M2434.4,643V832" stroke="#6f6f6d" stroke-width="1.3"/>
<path d="M2435.9,643V832" stroke="#e6e6e4" stroke-width="0.8" opacity="0.7"/>
<path d="M2497.7,643V832" stroke="#6f6f6d" stroke-width="1.3"/>
<path d="M2499.2,643V832" stroke="#e6e6e4" stroke-width="0.8" opacity="0.7"/>
<path d="M2352,655Q2450,649 2560,657" stroke="#f2f2f2" stroke-width="2.5" fill="none" opacity="0.85"/>
<path d="M2352,664Q2450,660 2560,667" stroke="#efefef" stroke-width="1.8" fill="none" opacity="0.7"/>
<path d="M2352,677Q2420,673 2440,676" stroke="#f4f4f4" stroke-width="1.5" fill="none" opacity="0.7"/>
<rect x="2450.8" y="672.6" width="28.8" height="120" rx="6" fill="#2b2e36" stroke="#111" stroke-width="1.5"/>
<rect x="2452.3" y="695.6" width="25.8" height="15" fill="#b07a30"/>
<rect x="2452.3" y="744" width="25.8" height="15.5" fill="#b07a30"/>
<rect x="2453.8" y="697" width="3.5" height="11" fill="#1d1d22"/><rect x="2453.8" y="745.5" width="3.5" height="11" fill="#1d1d22"/>
<rect x="2459.5" y="697" width="3.5" height="11" fill="#1d1d22"/><rect x="2459.5" y="745.5" width="3.5" height="11" fill="#1d1d22"/>
<rect x="2465.2" y="697" width="3.5" height="11" fill="#1d1d22"/><rect x="2465.2" y="745.5" width="3.5" height="11" fill="#1d1d22"/>
<rect x="2470.9" y="697" width="3.5" height="11" fill="#1d1d22"/><rect x="2470.9" y="745.5" width="3.5" height="11" fill="#1d1d22"/>
<path d="M2452.8,722h24.8" stroke="#555a66" stroke-width="1"/>
<path d="M2452.8,733h24.8" stroke="#555a66" stroke-width="1"/>
<path d="M2452.8,770h24.8" stroke="#555a66" stroke-width="1"/>
<path d="M2452.8,781h24.8" stroke="#555a66" stroke-width="1"/>
<rect x="2512.4" y="672.6" width="30.4" height="120" rx="6" fill="#2b2e36" stroke="#111" stroke-width="1.5"/>
<rect x="2513.9" y="695.6" width="27.4" height="15" fill="#b07a30"/>
<rect x="2513.9" y="744" width="27.4" height="15.5" fill="#b07a30"/>
<rect x="2515.4" y="697" width="3.5" height="11" fill="#1d1d22"/><rect x="2515.4" y="745.5" width="3.5" height="11" fill="#1d1d22"/>
<rect x="2521.5" y="697" width="3.5" height="11" fill="#1d1d22"/><rect x="2521.5" y="745.5" width="3.5" height="11" fill="#1d1d22"/>
<rect x="2527.6" y="697" width="3.5" height="11" fill="#1d1d22"/><rect x="2527.6" y="745.5" width="3.5" height="11" fill="#1d1d22"/>
<rect x="2533.7" y="697" width="3.5" height="11" fill="#1d1d22"/><rect x="2533.7" y="745.5" width="3.5" height="11" fill="#1d1d22"/>
<path d="M2514.4,722h26.4" stroke="#555a66" stroke-width="1"/>
<path d="M2514.4,733h26.4" stroke="#555a66" stroke-width="1"/>
<path d="M2514.4,770h26.4" stroke="#555a66" stroke-width="1"/>
<path d="M2514.4,781h26.4" stroke="#555a66" stroke-width="1"/>
<rect x="2362.9" y="698" width="18.1" height="16.5" fill="#1a2030"/><rect x="2364.7" y="699.8" width="14.5" height="12.9" fill="#3d8fea"/>
<circle cx="2371.9" cy="683.7" r="4" fill="#ddd" stroke="#444" stroke-width="1.2"/>
<rect x="2409.7" y="680" width="7.3" height="9" fill="#222"/><rect x="2411" y="681.5" width="4.7" height="4" fill="#d33"/>
<rect x="2401.5" y="698.5" width="8" height="4.5" fill="#222"/><rect x="2418" y="698.5" width="8" height="4.5" fill="#222"/><rect x="2403" y="699.7" width="5" height="2" fill="#e44"/><rect x="2419.5" y="699.7" width="5" height="2" fill="#e44"/>
<circle cx="2402.5" cy="712.0" r="1.5" fill="#ddd"/>
<circle cx="2408.1" cy="712.0" r="1.5" fill="#ddd"/>
<circle cx="2413.7" cy="712.0" r="1.5" fill="#ddd"/>
<circle cx="2419.3" cy="712.0" r="1.5" fill="#ddd"/>
<circle cx="2424.9" cy="712.0" r="1.5" fill="#ddd"/>
<circle cx="2402.5" cy="717.2" r="1.5" fill="#e8622a"/>
<circle cx="2408.1" cy="717.2" r="1.5" fill="#c33"/>
<circle cx="2413.7" cy="717.2" r="1.5" fill="#e8622a"/>
<circle cx="2419.3" cy="717.2" r="1.5" fill="#e8622a"/>
<circle cx="2424.9" cy="717.2" r="1.5" fill="#c33"/>
<circle cx="2402.5" cy="722.4" r="1.5" fill="#ddd"/>
<circle cx="2408.1" cy="722.4" r="1.5" fill="#2ecc71"/>
<circle cx="2413.7" cy="722.4" r="1.5" fill="#c33"/>
<circle cx="2419.3" cy="722.4" r="1.5" fill="#ddd"/>
<circle cx="2424.9" cy="722.4" r="1.5" fill="#2ecc71"/>
<circle cx="2402.5" cy="727.6" r="1.5" fill="#e0c040"/>
<circle cx="2408.1" cy="727.6" r="1.5" fill="#e0c040"/>
<path d="M2381,731h7v10" stroke="#eee" stroke-width="1.6" fill="none"/><rect x="2396" y="729" width="2.4" height="11" rx="1.2" fill="#eee" stroke="#888" stroke-width="0.4"/>
<rect x="2490" y="729" width="2.6" height="12" rx="1.3" fill="#eee" stroke="#888" stroke-width="0.4"/><rect x="2499.5" y="729" width="2.6" height="12" rx="1.3" fill="#eee" stroke="#888" stroke-width="0.4"/>
<rect x="2403" y="647" width="21" height="3.6" fill="#eee" stroke="#555" stroke-width="0.4"/><rect x="2518" y="647" width="21" height="3.6" fill="#eee" stroke="#555" stroke-width="0.4"/>
<rect x="2364.5" y="800.8" width="14.8" height="17.2" fill="#d2d2d0" opacity="0.9"/>
<rect x="2405.6" y="800.8" width="14.8" height="17.2" fill="#d2d2d0" opacity="0.9"/>
<rect x="2457.4" y="800.8" width="14.8" height="17.2" fill="#d2d2d0" opacity="0.9"/>
<rect x="2519.8" y="800.8" width="14.8" height="17.2" fill="#d2d2d0" opacity="0.9"/>
<rect x="2352" y="828" width="206" height="5" fill="#777" opacity="0.7"/>
</g>
<g>
<circle cx="1498.2" cy="761.9" r="116" fill="#fff" stroke="#5edffa" stroke-width="6.8"/>
<rect x="1432" y="693.5" width="110.5" height="111" rx="3" fill="#e2e5e5"/>
<path d="M1426,790l14,-10l6,8l-12,20z" fill="#8fa79c" stroke="#4b5e56" stroke-width="1"/>
<path d="M1461.5,688.2H1509.9L1546.1,724.4V772.8L1509.9,809.0H1461.5L1425.3,772.8V724.4Z" fill="#3d7a62" stroke="#2a4c40" stroke-width="1.5"/>
<path d="M1463.3,692.6H1508.1L1541.7,726.2V771.0L1508.1,804.6H1463.3L1429.7,771.0V726.2Z" fill="none" stroke="#8fe0b4" stroke-width="2" opacity="0.6"/>
<path d="M1464.5,695.6H1506.9L1538.7,727.4V769.8L1506.9,801.6H1464.5L1432.7,769.8V727.4Z" fill="#4c9374" opacity="0.7"/>
<circle cx="1457" cy="697" r="5" fill="#22ff66" opacity="0.75" filter="url(#b2)"/><circle cx="1457" cy="697" r="1.6" fill="#dfffe8"/>
<circle cx="1514" cy="697" r="5" fill="#22ff66" opacity="0.75" filter="url(#b2)"/><circle cx="1514" cy="697" r="1.6" fill="#dfffe8"/>
<circle cx="1433" cy="722" r="5" fill="#22ff66" opacity="0.75" filter="url(#b2)"/><circle cx="1433" cy="722" r="1.6" fill="#dfffe8"/>
<circle cx="1433" cy="775" r="5" fill="#22ff66" opacity="0.75" filter="url(#b2)"/><circle cx="1433" cy="775" r="1.6" fill="#dfffe8"/>
<circle cx="1538" cy="722" r="5" fill="#22ff66" opacity="0.75" filter="url(#b2)"/><circle cx="1538" cy="722" r="1.6" fill="#dfffe8"/>
<circle cx="1538" cy="775" r="5" fill="#22ff66" opacity="0.75" filter="url(#b2)"/><circle cx="1538" cy="775" r="1.6" fill="#dfffe8"/>
<circle cx="1457" cy="801" r="5" fill="#22ff66" opacity="0.75" filter="url(#b2)"/><circle cx="1457" cy="801" r="1.6" fill="#dfffe8"/>
<circle cx="1514" cy="801" r="5" fill="#22ff66" opacity="0.75" filter="url(#b2)"/><circle cx="1514" cy="801" r="1.6" fill="#dfffe8"/>
<circle cx="1437" cy="733" r="5" fill="#22ff66" opacity="0.75" filter="url(#b2)"/><circle cx="1437" cy="733" r="1.6" fill="#dfffe8"/>
<circle cx="1534" cy="733" r="5" fill="#22ff66" opacity="0.75" filter="url(#b2)"/><circle cx="1534" cy="733" r="1.6" fill="#dfffe8"/>
<circle cx="1437" cy="764" r="5" fill="#22ff66" opacity="0.75" filter="url(#b2)"/><circle cx="1437" cy="764" r="1.6" fill="#dfffe8"/>
<circle cx="1534" cy="764" r="5" fill="#22ff66" opacity="0.75" filter="url(#b2)"/><circle cx="1534" cy="764" r="1.6" fill="#dfffe8"/>
<circle cx="1442" cy="704" r="4.2" fill="#aab3b0" stroke="#444" stroke-width="1"/><path d="M1439.5,704h5M1442,701.5v5" stroke="#444" stroke-width="0.8"/>
<circle cx="1529.5" cy="704" r="4.2" fill="#aab3b0" stroke="#444" stroke-width="1"/><path d="M1527.0,704h5M1529.5,701.5v5" stroke="#444" stroke-width="0.8"/>
<circle cx="1442" cy="793" r="4.2" fill="#aab3b0" stroke="#444" stroke-width="1"/><path d="M1439.5,793h5M1442,790.5v5" stroke="#444" stroke-width="0.8"/>
<circle cx="1529.5" cy="793" r="4.2" fill="#aab3b0" stroke="#444" stroke-width="1"/><path d="M1527.0,793h5M1529.5,790.5v5" stroke="#444" stroke-width="0.8"/>
<path d="M1467.8,702.1H1505.8L1534.3,730.0V767.2L1505.8,795.1H1467.8L1439.3,767.2V730.0Z" fill="#0b4fae" stroke="#101820" stroke-width="1.4"/>
<text x="1486" y="716.5" font-size="5.2" font-weight="700" fill="#fff" text-anchor="middle" textLength="43" lengthAdjust="spacingAndGlyphs">SMART GAS DETECTOR</text>
<text x="1486" y="724.2" font-size="4.2" font-weight="700" fill="#fff" text-anchor="middle" textLength="33" lengthAdjust="spacingAndGlyphs">LPG : 0 TO 100 %LEL</text>
<rect x="1461.4" y="736.9" width="48.6" height="19.8" rx="1.5" fill="#5c0f1c" stroke="#c9c3d8" stroke-width="1"/>
<text x="1485" y="753.5" font-size="17" font-weight="700" fill="#7a1824" text-anchor="middle" textLength="40" lengthAdjust="spacingAndGlyphs" font-family="Liberation Mono, monospace">8880</text>
<rect x="1497.8" y="740.3" width="8.4" height="13" rx="2.2" fill="none" stroke="#ff2222" stroke-width="2"/>
<rect x="1446.6" y="743.5" width="11" height="11" rx="2" fill="#1f63c4" stroke="#fff" stroke-width="1"/><rect x="1448.8" y="745.7" width="6.6" height="3" fill="#fff"/><rect x="1448.8" y="750.3" width="6.6" height="2" fill="#cfe0ff"/>
<rect x="1514.4" y="743.5" width="11" height="11" rx="2" fill="#1f63c4" stroke="#fff" stroke-width="1"/><rect x="1516.6000000000001" y="745.7" width="6.6" height="3" fill="#fff"/><rect x="1516.6000000000001" y="750.3" width="6.6" height="2" fill="#cfe0ff"/>
<circle cx="1468" cy="761.2" r="2" fill="#f3d9a0" stroke="#fff" stroke-width="0.7"/>
<circle cx="1479.8" cy="761.2" r="2" fill="#f3d9a0" stroke="#fff" stroke-width="0.7"/>
<circle cx="1491.6" cy="761.2" r="2" fill="#f3d9a0" stroke="#fff" stroke-width="0.7"/>
<circle cx="1503.4" cy="761.2" r="2" fill="#f3d9a0" stroke="#fff" stroke-width="0.7"/>
<text x="1485.7" y="768" font-size="3" font-weight="700" fill="#fff" text-anchor="middle" textLength="41" lengthAdjust="spacing">AL1 AL2 FLT COM</text>
<rect x="1480.5" y="771.5" width="11.8" height="11" rx="2.2" fill="#1f63c4" stroke="#fff" stroke-width="1"/><rect x="1483" y="774" width="6.8" height="6" fill="none" stroke="#fff" stroke-width="0.8"/>
<text x="1486" y="789.8" font-size="5.6" font-weight="700" fill="#fff" text-anchor="middle" textLength="29" lengthAdjust="spacingAndGlyphs">GT-4220-WP</text>
<g><rect x="1401.7" y="739" width="12" height="24" rx="3" fill="#a5aaab"/><rect x="1410" y="737" width="10" height="28.5" rx="2" fill="#b9bdbe"/><rect x="1419" y="741" width="8" height="20.5" fill="#9a9fa0"/><path d="M1404.5,740v22M1407.5,739.5v23M1413,737.5v27.5M1416.5,737.5v27.5" stroke="#7e8384" stroke-width="0.8"/></g>
<path d="M1463.6,809H1507.8V822Q1507.8,825 1504,825V848Q1504,852.5 1499,852.5H1472Q1467.5,852.5 1467.5,848V825Q1463.6,825 1463.6,822Z" fill="#1c1c1c"/>
<rect x="1467.5" y="841" width="36.5" height="3" fill="#333"/><rect x="1463.6" y="812" width="44.2" height="2" fill="#3a3a3a"/>
<path d="M1555,717V711Q1555,702.2 1567.2,702.2Q1579.3,702.2 1579.3,711V717Z" fill="#c21d22"/><ellipse cx="1563" cy="708" rx="3" ry="4" fill="#f08a8a" opacity="0.8"/>
<path d="M1549,717Q1549,715.5 1552,715.5H1582Q1585.2,715.5 1585.2,717V762.6H1549Z" fill="#d4d6d7"/><rect x="1549" y="726" width="36.2" height="2" fill="#b7babb"/><rect x="1546.5" y="735" width="4" height="14" fill="#c5c8c9"/>
<path d="M1549,762.6H1585.2L1590.3,793Q1590.3,797.3 1586,797.3H1549.7Q1545.4,797.3 1545.4,793Z" fill="#c8232a"/><path d="M1551,762.6H1560L1557,797H1548.5Q1545.4,797 1545.6,793Z" fill="#e0555a" opacity="0.55"/>
</g>
<g fill="none" stroke="#000" stroke-width="1.5" stroke-linejoin="round"><path d="M1101,1253H1163.5" stroke="#00eeff" stroke-width="3" vector-effect="non-scaling-stroke"/><path d="M1129.8,1269V1365.5" stroke="#00eeff" stroke-width="1.6" vector-effect="non-scaling-stroke"/><path d="M1118.6,1341.7H1158.8" stroke="#00eeff" stroke-width="1.8" vector-effect="non-scaling-stroke"/><path d="M1122.5,1275V1293" stroke="#00eeff" stroke-width="1.4" vector-effect="non-scaling-stroke"/><rect x="1087.6" y="1252.4" width="16.8" height="9.8" stroke-width="1.4" vector-effect="non-scaling-stroke"/><rect x="1173.6" y="1252.4" width="16.8" height="9.8" stroke-width="1.4" vector-effect="non-scaling-stroke"/><path d="M1158,1253H1176M1176.5,1250.5V1254M1177,1256.5V1262" stroke="#ff0000" stroke-width="1.6" vector-effect="non-scaling-stroke"/><rect x="1165.4" y="1253" width="3.3" height="110" fill="#8a8a8a" stroke-width="1.1" vector-effect="non-scaling-stroke"/><path d="M1167,1254V1272M1167,1305V1318" stroke="#00eeff" stroke-width="1.4" vector-effect="non-scaling-stroke"/><path d="M1163.5,1284.5H1170.5M1165,1326H1170" stroke-width="2" vector-effect="non-scaling-stroke"/><path d="M1123.8,1253V1263" stroke-width="1.2" vector-effect="non-scaling-stroke"/><circle cx="1121.8" cy="1266" r="2.6" stroke-width="1.6" vector-effect="non-scaling-stroke"/><circle cx="1129.8" cy="1266.2" r="3" stroke-width="1.6" vector-effect="non-scaling-stroke"/><path d="M1116.5,1283V1275Q1116.5,1269.5 1124,1269.5H1128M1135,1271.5H1139Q1143.5,1272 1143.5,1277V1283" stroke-width="1.7" vector-effect="non-scaling-stroke"/><path d="M1127.6,1270V1282.5M1132,1270V1282.5" stroke-width="0.6" stroke="#444" vector-effect="non-scaling-stroke"/><rect x="1114.4" y="1283" width="33.2" height="3.8" fill="#000" vector-effect="non-scaling-stroke"/><path d="M1118,1287l1.6,6M1144,1287l-1.6,6" stroke-width="1.6" vector-effect="non-scaling-stroke"/><path d="M1116.6,1287V1321H1143.2V1287" stroke-width="1.8" vector-effect="non-scaling-stroke"/><path d="M1117,1289.5H1143" stroke-width="0.6" vector-effect="non-scaling-stroke"/><path d="M1117.5,1321V1327.5M1142.5,1321V1327.5" stroke-width="0.6" vector-effect="non-scaling-stroke"/><path d="M1113.5,1328.8H1145.3" stroke-width="2.4" stroke-linecap="round" vector-effect="non-scaling-stroke"/><path d="M1114.5,1330V1338Q1115,1342 1119,1343.5M1144.5,1330V1334Q1144,1339 1139,1341" stroke-width="0.9" vector-effect="non-scaling-stroke"/><path d="M1113.8,1339.5l3,2.5l1.5,3" stroke-width="2" vector-effect="non-scaling-stroke"/><path d="M1144.5,1336H1148" stroke-width="2" vector-effect="non-scaling-stroke"/><path d="M1113,1357H1146.5" stroke-width="2.6" stroke-linecap="round" vector-effect="non-scaling-stroke"/><path d="M1119.5,1347L1113.5,1356M1124,1348.5L1118.5,1356M1126.5,1349L1123,1356M1133.5,1349L1136.5,1356M1137,1348.5L1141.5,1356M1141,1347L1146,1356M1119.5,1347H1126.5M1133.5,1348.5H1141" stroke-width="1.6" vector-effect="non-scaling-stroke"/><path d="M1151.5,1328V1351M1155,1328V1351M1148.5,1332H1158M1148.5,1352H1156M1151,1327.5H1168" stroke-width="1.8" vector-effect="non-scaling-stroke"/><circle cx="1158.8" cy="1326" r="1.8" fill="#000" vector-effect="non-scaling-stroke"/><path d="M1156.5,1326H1161" stroke="#00eeff" stroke-width="1" vector-effect="non-scaling-stroke"/><path d="M1176,1326.3H1199" stroke-width="3.4" stroke-linecap="round" vector-effect="non-scaling-stroke"/><path d="M1177.4,1322.5V1330M1197.6,1322.5V1330" stroke="#00eeff" stroke-width="1.6" vector-effect="non-scaling-stroke"/><path d="M1187.5,1320V1326" stroke="#ff0000" stroke-width="1.5" vector-effect="non-scaling-stroke"/><path d="M1179.5,1328V1330Q1179.5,1334 1174,1334H1162M1195,1328V1332Q1194,1348.5 1174,1349H1160" stroke-width="1.5" vector-effect="non-scaling-stroke"/><path d="M1187,1328Q1186.5,1339 1175,1342" stroke="#00eeff" stroke-width="1.5" vector-effect="non-scaling-stroke"/><path d="M1162,1334Q1160,1342 1159,1350" stroke-width="1.2" vector-effect="non-scaling-stroke"/><rect x="1158.5" y="1350" width="27.5" height="14" stroke-width="2.6" vector-effect="non-scaling-stroke"/><path d="M1162,1353.5H1183V1361H1162Z" stroke-width="1.3" vector-effect="non-scaling-stroke"/><path d="M1160.5,1365V1378M1162.5,1365V1378M1183,1365V1378M1185,1365V1378" stroke-width="1.2" vector-effect="non-scaling-stroke"/><path d="M1161.5,1364V1381M1184,1364V1381" stroke="#00eeff" stroke-width="1.5" vector-effect="non-scaling-stroke"/><path d="M1159.5,1372l2,6l2,-6M1182,1372l2,6l2,-6" stroke-width="1.4" vector-effect="non-scaling-stroke"/><path d="M1188,1365H1208.4" stroke="#ff0000" stroke-width="1.6" vector-effect="non-scaling-stroke"/></g>
<g transform="matrix(1.18,0,0,1.52,968,-759.2)"><g fill="none" stroke="#000" stroke-width="1.95" stroke-linejoin="round"><path d="M1101,1253H1163.5" stroke="#00eeff" stroke-width="3.90" vector-effect="non-scaling-stroke"/><path d="M1129.8,1269V1365.5" stroke="#00eeff" stroke-width="2.08" vector-effect="non-scaling-stroke"/><path d="M1118.6,1341.7H1158.8" stroke="#00eeff" stroke-width="2.34" vector-effect="non-scaling-stroke"/><path d="M1122.5,1275V1293" stroke="#00eeff" stroke-width="1.82" vector-effect="non-scaling-stroke"/><rect x="1087.6" y="1252.4" width="16.8" height="9.8" stroke-width="1.82" vector-effect="non-scaling-stroke"/><rect x="1173.6" y="1252.4" width="16.8" height="9.8" stroke-width="1.82" vector-effect="non-scaling-stroke"/><path d="M1158,1253H1176M1176.5,1250.5V1254M1177,1256.5V1262" stroke="#ff0000" stroke-width="2.08" vector-effect="non-scaling-stroke"/><rect x="1165.4" y="1253" width="3.3" height="110" fill="#8a8a8a" stroke-width="1.43" vector-effect="non-scaling-stroke"/><path d="M1167,1254V1272M1167,1305V1318" stroke="#00eeff" stroke-width="1.82" vector-effect="non-scaling-stroke"/><path d="M1163.5,1284.5H1170.5M1165,1326H1170" stroke-width="2.60" vector-effect="non-scaling-stroke"/><path d="M1123.8,1253V1263" stroke-width="1.56" vector-effect="non-scaling-stroke"/><circle cx="1121.8" cy="1266" r="2.6" stroke-width="2.08" vector-effect="non-scaling-stroke"/><circle cx="1129.8" cy="1266.2" r="3" stroke-width="2.08" vector-effect="non-scaling-stroke"/><path d="M1116.5,1283V1275Q1116.5,1269.5 1124,1269.5H1128M1135,1271.5H1139Q1143.5,1272 1143.5,1277V1283" stroke-width="2.21" vector-effect="non-scaling-stroke"/><path d="M1127.6,1270V1282.5M1132,1270V1282.5" stroke-width="0.78" stroke="#444" vector-effect="non-scaling-stroke"/><rect x="1114.4" y="1283" width="33.2" height="3.8" fill="#000" vector-effect="non-scaling-stroke"/><path d="M1118,1287l1.6,6M1144,1287l-1.6,6" stroke-width="2.08" vector-effect="non-scaling-stroke"/><path d="M1116.6,1287V1321H1143.2V1287" stroke-width="2.34" vector-effect="non-scaling-stroke"/><path d="M1117,1289.5H1143" stroke-width="0.78" vector-effect="non-scaling-stroke"/><path d="M1117.5,1321V1327.5M1142.5,1321V1327.5" stroke-width="0.78" vector-effect="non-scaling-stroke"/><path d="M1113.5,1328.8H1145.3" stroke-width="3.12" stroke-linecap="round" vector-effect="non-scaling-stroke"/><path d="M1114.5,1330V1338Q1115,1342 1119,1343.5M1144.5,1330V1334Q1144,1339 1139,1341" stroke-width="1.17" vector-effect="non-scaling-stroke"/><path d="M1113.8,1339.5l3,2.5l1.5,3" stroke-width="2.60" vector-effect="non-scaling-stroke"/><path d="M1144.5,1336H1148" stroke-width="2.60" vector-effect="non-scaling-stroke"/><path d="M1113,1357H1146.5" stroke-width="3.38" stroke-linecap="round" vector-effect="non-scaling-stroke"/><path d="M1119.5,1347L1113.5,1356M1124,1348.5L1118.5,1356M1126.5,1349L1123,1356M1133.5,1349L1136.5,1356M1137,1348.5L1141.5,1356M1141,1347L1146,1356M1119.5,1347H1126.5M1133.5,1348.5H1141" stroke-width="2.08" vector-effect="non-scaling-stroke"/><path d="M1151.5,1328V1351M1155,1328V1351M1148.5,1332H1158M1148.5,1352H1156M1151,1327.5H1168" stroke-width="2.34" vector-effect="non-scaling-stroke"/><circle cx="1158.8" cy="1326" r="1.8" fill="#000" vector-effect="non-scaling-stroke"/><path d="M1156.5,1326H1161" stroke="#00eeff" stroke-width="1.30" vector-effect="non-scaling-stroke"/><path d="M1176,1326.3H1199" stroke-width="4.42" stroke-linecap="round" vector-effect="non-scaling-stroke"/><path d="M1177.4,1322.5V1330M1197.6,1322.5V1330" stroke="#00eeff" stroke-width="2.08" vector-effect="non-scaling-stroke"/><path d="M1187.5,1320V1326" stroke="#ff0000" stroke-width="1.95" vector-effect="non-scaling-stroke"/><path d="M1179.5,1328V1330Q1179.5,1334 1174,1334H1162M1195,1328V1332Q1194,1348.5 1174,1349H1160" stroke-width="1.95" vector-effect="non-scaling-stroke"/><path d="M1187,1328Q1186.5,1339 1175,1342" stroke="#00eeff" stroke-width="1.95" vector-effect="non-scaling-stroke"/><path d="M1162,1334Q1160,1342 1159,1350" stroke-width="1.56" vector-effect="non-scaling-stroke"/><rect x="1158.5" y="1350" width="27.5" height="14" stroke-width="3.38" vector-effect="non-scaling-stroke"/><path d="M1162,1353.5H1183V1361H1162Z" stroke-width="1.69" vector-effect="non-scaling-stroke"/><path d="M1160.5,1365V1378M1162.5,1365V1378M1183,1365V1378M1185,1365V1378" stroke-width="1.56" vector-effect="non-scaling-stroke"/><path d="M1161.5,1364V1381M1184,1364V1381" stroke="#00eeff" stroke-width="1.95" vector-effect="non-scaling-stroke"/><path d="M1159.5,1372l2,6l2,-6M1182,1372l2,6l2,-6" stroke-width="1.82" vector-effect="non-scaling-stroke"/><path d="M1188,1365H1208.4" stroke="#ff0000" stroke-width="2.08" vector-effect="non-scaling-stroke"/></g><path d="M1178.6,1291V1324M1195.3,1311.4V1324" stroke="#000" stroke-width="1.5" fill="none" vector-effect="non-scaling-stroke"/></g>
<!-- labels -->
<!-- bottom connecting line -->
<path d="M380,1585.5H2585" stroke="#fff" stroke-width="15" stroke-linecap="round" fill="none"/>
<rect x="257" y="1516" width="266" height="134.5" fill="#fff"/>
<rect x="1008.5" y="1516" width="352.5" height="134.5" fill="#fff"/>
<rect x="1993.5" y="1516" width="386" height="134.5" fill="#fff"/>
<g text-anchor="middle" fill="#111" font-weight="700">
<text x="388" y="1566" font-size="33.5">맨홀 탈취기</text>
<text x="388" y="1602" font-size="28" textLength="114" lengthAdjust="spacingAndGlyphs">레벨/센서</text>
<text x="388" y="1638" font-size="27">IOT통신</text>
<text x="1191" y="1566" font-size="33.5">맨홀 펌프장 탈취기</text>
<text x="1191" y="1602" font-size="27">(탈취기 + 펌프 제어 복합형)</text>
<text x="1191" y="1638" font-size="27">IOT통신</text>
<text x="2186" y="1566" font-size="33.5">오수 중계펌프장 탈취기</text>
<text x="2186" y="1602" font-size="27">(탈취기 + 펌프 제어 복합형)</text>
<text x="2186" y="1638" font-size="27">IOT통신</text>
</g>
<text x="2728" y="1614" font-size="33" font-weight="700" fill="#fff" text-anchor="middle">중앙 감시 제어실</text>
<!-- top labels -->
<g fill="#000" font-size="34" font-weight="400" stroke="#000" stroke-width="0.55">
<text x="402" y="575">IOT장치(SID)</text>
<text x="1131" y="593">IOT장치(SID)</text>
<text x="1774" y="476">IOT장치(SID)</text>
</g>
<text x="1396.5" y="608" font-size="47.3" fill="#000" font-weight="500">악취측정기</text>
<text x="1779" y="1284" font-size="47" fill="#000" font-weight="400">오수 유입 펌프장</text>

<!-- legend -->
<g>
<rect x="147" y="1886" width="52" height="54" fill="#0055ff"/>
<rect x="147" y="1948" width="52" height="54" fill="#0055ff"/>
<rect x="147" y="2009" width="52" height="54" fill="#0055ff"/>
<rect x="147" y="2071" width="52" height="54" fill="#0055ff"/>
<rect x="147" y="2133" width="52" height="54" fill="#0055ff"/>
<g fill="#fff" font-size="38" text-anchor="middle">
<text x="173" y="1927">A</text><text x="173" y="1989">B</text><text x="173" y="2050">C</text><text x="173" y="2112">D</text><text x="173" y="2174">E</text>
</g>
<g fill="#333" font-size="46" font-weight="400" stroke="#333" stroke-width="0.55">
<text x="213" y="1931" textLength="337" lengthAdjust="spacingAndGlyphs">LEVEL SENSOR</text>
<text x="213" y="1992" textLength="982" lengthAdjust="spacingAndGlyphs">H2S SENSOR or VOC SENSOR or PH SENSOR</text>
<text x="213" y="2053" textLength="262" lengthAdjust="spacingAndGlyphs">TO: 폐수유입</text>
<text x="213" y="2114" textLength="262" lengthAdjust="spacingAndGlyphs">TO: 유수방출</text>
<text x="213" y="2175" textLength="459" lengthAdjust="spacingAndGlyphs">TO: 악취토출 방지 덮개</text>
</g>
</g>

</svg>
</body></html>
